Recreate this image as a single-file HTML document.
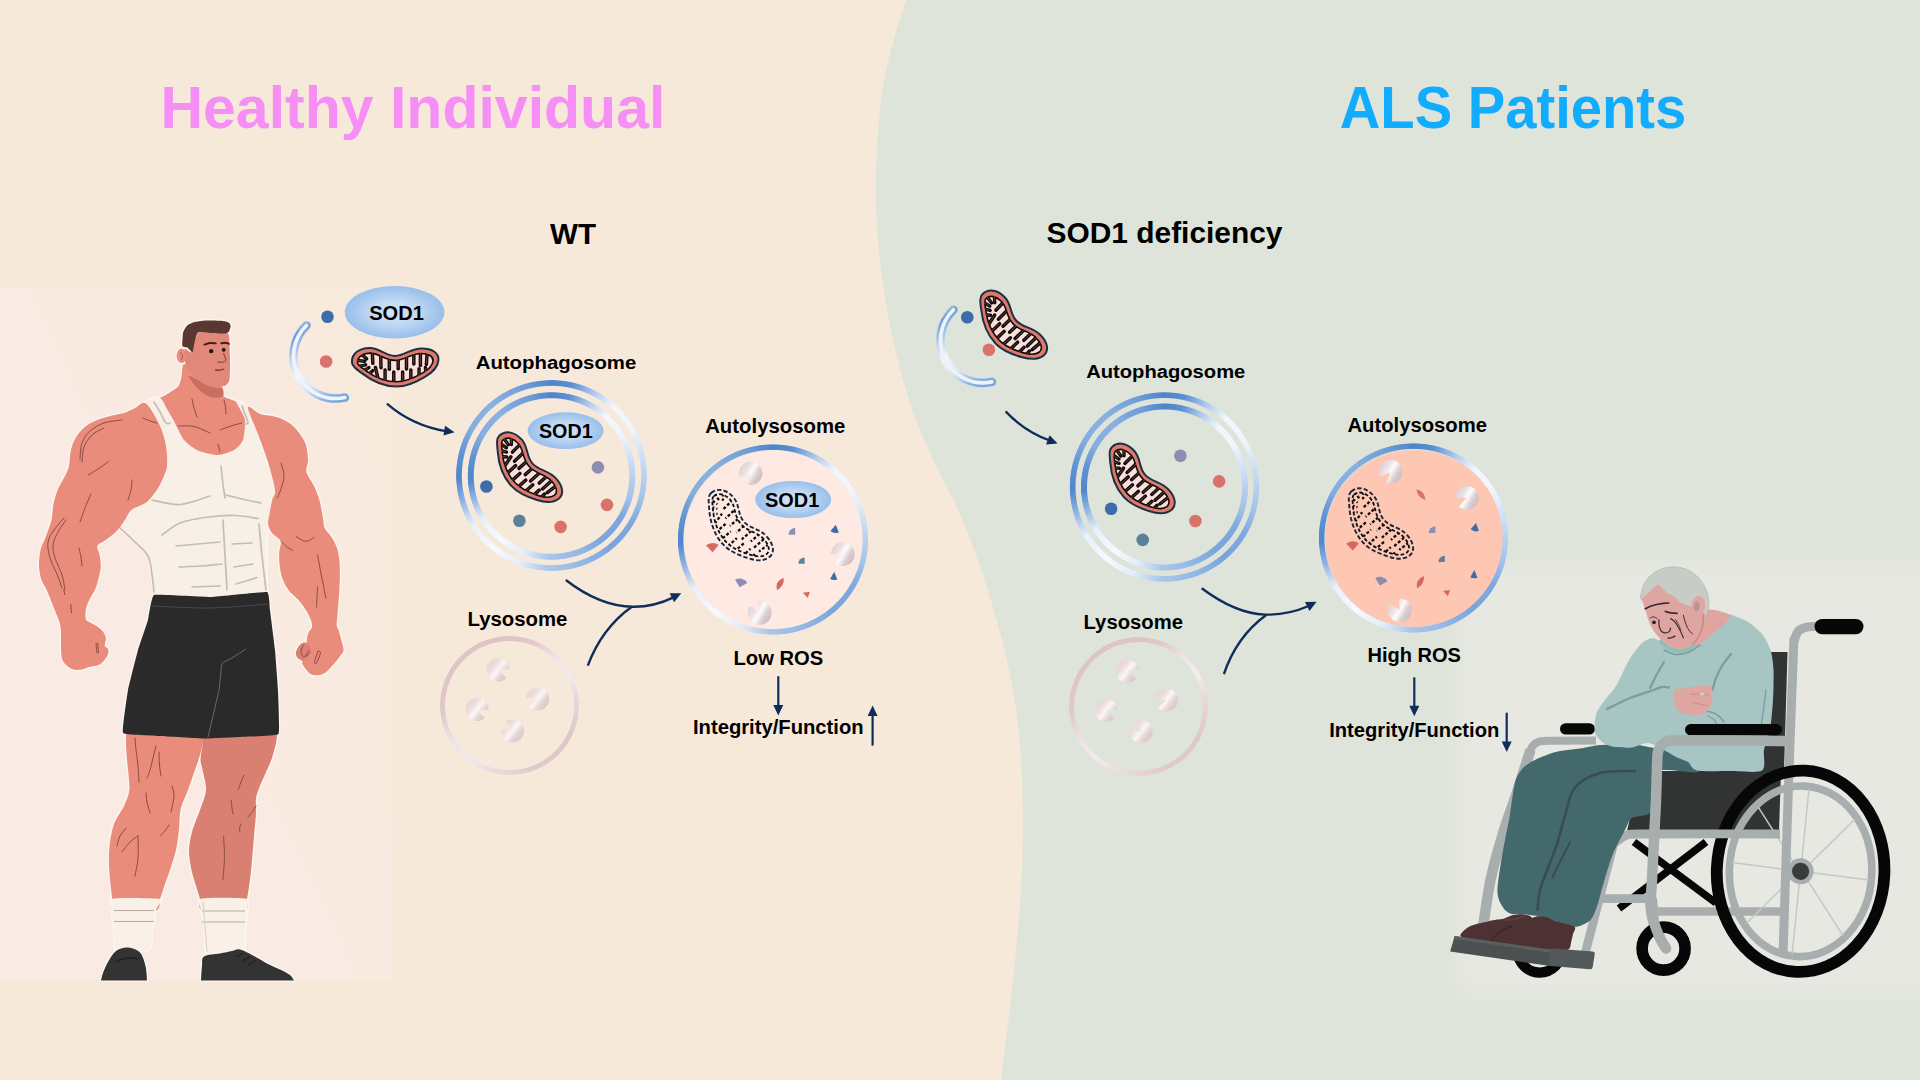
<!DOCTYPE html>
<html>
<head>
<meta charset="utf-8">
<title>SOD1 mitophagy</title>
<style>
html,body{margin:0;padding:0;width:1920px;height:1080px;overflow:hidden;background:#f7e9da;}
body{font-family:"Liberation Sans",sans-serif;position:relative;}
#stage{position:absolute;left:0;top:0;width:1920px;height:1080px;overflow:hidden;}
svg{position:absolute;left:0;top:0;}
svg text{font-family:"Liberation Sans",sans-serif;font-weight:bold;}
.ring{position:absolute;border-radius:50%;}
</style>
</head>
<body>
<div id="stage">

<!-- ============ LAYER 1: backgrounds ============ -->
<svg width="1920" height="1080" viewBox="0 0 1920 1080">
  <defs>
    <linearGradient id="manbg" x1="1" y1="0" x2="0.35" y2="0.55">
      <stop offset="0" stop-color="#f9ebe3" stop-opacity="0.08"/>
      <stop offset="1" stop-color="#f9ebe3" stop-opacity="1"/>
    </linearGradient>
    <filter id="soft" x="-10%" y="-10%" width="120%" height="120%"><feGaussianBlur stdDeviation="9"/></filter>
    <linearGradient id="oldbgL" x1="0" y1="0" x2="1" y2="0">
      <stop offset="0" stop-color="#e4e8e1" stop-opacity="0"/>
      <stop offset="0.22" stop-color="#e4e8e1" stop-opacity="1"/>
      <stop offset="1" stop-color="#e4e8e1" stop-opacity="1"/>
    </linearGradient>
  </defs>
  <rect x="0" y="0" width="1920" height="1080" fill="#f7e9da"/>
  <path id="sage" fill="#dee4d9" d="M906,0 C893,40 884,70 880,110 C875,160 875,205 878,240 C882,290 893,350 909,400 C922,440 941,476 954,501 C970,535 986,580 1002,640 C1012,680 1020,720 1022,780 C1024,830 1023,880 1017,940 C1013,985 1006,1040 1001,1080 L1920,1080 L1920,0 Z"/>
  <rect x="0" y="287" width="392" height="692.5" fill="url(#manbg)"/>
  <rect x="1456" y="562" width="520" height="436" fill="#e6e8e1" filter="url(#soft)"/>
</svg>

<!-- ============ LAYER 2: figures (man + wheelchair) ============ -->
<svg id="figs" width="1920" height="1080" viewBox="0 0 1920 1080">
<g id="man">
<path d="M215.0,716.0 C206.2,717.2 205.4,719.6 203.5,724.0 C201.6,728.4 202.9,739.6 202.5,745.0 C202.1,750.4 200.4,756.0 200.5,760.0 C200.6,764.0 202.2,767.5 203.0,772.0 C203.8,776.5 206.4,784.3 206.0,790.0 C205.6,795.7 202.0,804.0 200.0,810.0 C198.0,816.0 194.2,824.0 192.5,830.0 C190.8,836.0 189.2,844.0 189.0,850.0 C188.8,856.0 190.4,864.6 191.5,870.0 C192.6,875.4 194.7,881.6 196.0,886.0 C197.3,890.4 198.9,895.2 200.0,899.0 C201.1,902.8 196.4,909.2 203.0,911.0 C209.6,912.8 237.4,912.8 244.0,911.0 C250.6,909.2 246.1,903.6 247.0,899.0 C247.9,894.4 249.2,885.9 250.0,880.0 C250.8,874.1 251.4,866.6 252.0,860.0 C252.6,853.4 253.4,842.9 254.0,836.0 C254.6,829.1 255.7,819.7 256.0,814.0 C256.3,808.3 255.4,802.2 256.0,798.0 C256.6,793.8 258.4,790.2 260.0,786.0 C261.6,781.8 265.2,774.2 267.0,770.0 C268.8,765.8 270.6,762.5 272.0,758.0 C273.4,753.5 275.8,745.4 276.5,740.0 C277.2,734.6 278.7,725.6 276.5,722.0 C274.3,718.4 271.2,716.9 262.0,716.0 C252.8,715.1 223.8,714.8 215.0,716.0 Z" fill="#fdf7f0" stroke="#fdf7f0" stroke-width="2.6" stroke-linejoin="round"/>
<path d="M150.0,715.0 C140.7,715.9 131.6,718.2 128.0,722.0 C124.4,725.8 126.2,734.3 126.0,740.0 C125.8,745.7 126.5,754.0 127.0,760.0 C127.5,766.0 128.7,775.2 129.0,780.0 C129.3,784.8 129.8,788.1 129.0,792.0 C128.2,795.9 126.2,801.2 124.0,806.0 C121.8,810.8 116.2,818.0 114.0,824.0 C111.8,830.0 110.2,839.7 109.5,846.0 C108.8,852.3 108.8,860.3 109.0,866.0 C109.2,871.7 110.0,879.0 110.5,884.0 C111.0,889.0 111.7,895.0 112.3,899.0 C112.9,903.0 108.1,909.2 114.5,911.0 C120.9,912.8 148.2,912.8 155.0,911.0 C161.8,909.2 158.5,903.0 160.0,899.0 C161.5,895.0 163.5,888.4 165.0,884.0 C166.5,879.6 168.3,875.1 170.0,870.0 C171.7,864.9 174.7,856.0 176.0,850.0 C177.3,844.0 178.3,836.0 179.0,830.0 C179.7,824.0 179.2,816.0 180.5,810.0 C181.8,804.0 185.8,796.0 188.0,790.0 C190.2,784.0 193.3,774.8 195.0,770.0 C196.7,765.2 197.9,761.8 199.0,758.0 C200.1,754.2 201.8,749.2 202.5,745.0 C203.2,740.8 205.4,734.4 203.5,730.0 C201.6,725.6 198.0,718.2 190.0,716.0 C182.0,713.8 159.3,714.1 150.0,715.0 Z" fill="#fdf7f0" stroke="#fdf7f0" stroke-width="2.6" stroke-linejoin="round"/>
<path d="M112.0,899.0 C115.1,897.3 157.1,898.3 160.0,899.0 C162.9,899.7 156.5,907.9 156.0,910.0 C155.5,912.1 152.4,927.3 152.0,930.0 C151.6,932.7 151.9,948.7 149.5,950.0 C147.1,951.3 118.4,951.7 116.0,950.0 C113.6,948.3 114.3,928.4 114.0,925.0 C113.7,921.6 108.9,900.7 112.0,899.0 Z" fill="#fdf7f0" stroke="#fdf7f0" stroke-width="2.6" stroke-linejoin="round"/>
<path d="M200.0,899.0 C202.8,897.3 244.0,897.5 247.0,899.0 C250.0,900.5 245.7,918.6 245.5,922.0 C245.3,925.4 246.1,947.9 243.5,950.0 C240.9,952.1 209.6,955.7 207.0,954.0 C204.4,952.3 205.0,928.7 204.5,925.0 C204.0,921.3 197.2,900.7 200.0,899.0 Z" fill="#fdf7f0" stroke="#fdf7f0" stroke-width="2.6" stroke-linejoin="round"/>
<path d="M101.0,980.5 C101.3,979.2 101.8,976.1 103.0,973.0 C104.2,969.9 105.8,965.7 108.0,962.0 C110.2,958.3 112.7,953.4 116.0,951.0 C119.3,948.6 124.0,947.2 128.0,947.5 C132.0,947.8 137.1,949.4 140.0,952.5 C142.9,955.6 144.3,961.3 145.5,966.0 C146.7,970.7 146.8,978.1 147.0,980.5 Z" fill="#fdf7f0" stroke="#fdf7f0" stroke-width="2.6" stroke-linejoin="round"/>
<path d="M201.0,980.5 C201.2,978.1 201.5,970.0 202.0,966.0 C202.5,962.0 201.0,958.6 204.0,956.5 C207.0,954.4 215.3,954.4 220.0,953.5 C224.7,952.6 228.7,951.7 232.0,951.0 C235.3,950.3 236.3,948.7 240.0,949.5 C243.7,950.3 249.3,953.6 254.0,956.0 C258.7,958.4 263.7,961.8 268.0,964.0 C272.3,966.2 276.3,967.7 280.0,969.5 C283.7,971.3 287.7,973.2 290.0,975.0 C292.3,976.8 293.3,979.6 294.0,980.5 Z" fill="#fdf7f0" stroke="#fdf7f0" stroke-width="2.6" stroke-linejoin="round"/>
<path d="M146.0,403.5 C147.3,399.9 153.0,400.3 155.0,399.5 C157.0,398.7 161.0,397.5 163.0,396.5 C165.0,395.5 170.2,392.2 172.0,391.0 C173.8,389.8 177.4,387.6 178.5,386.0 C179.6,384.4 180.9,379.6 181.5,377.0 C182.1,374.4 181.8,364.6 184.0,364.0 C186.2,363.4 195.6,369.2 200.0,372.0 C204.4,374.8 219.3,385.2 222.0,388.0 C224.7,390.8 221.5,394.5 223.0,396.0 C224.5,397.5 232.1,399.7 235.0,401.0 C237.9,402.3 246.0,404.1 248.0,407.5 C250.0,410.9 251.8,423.6 252.0,430.0 C252.2,436.4 261.9,458.3 250.0,462.0 C238.1,465.7 162.4,465.7 150.0,462.0 C137.6,458.3 144.5,436.8 144.0,430.0 C143.5,423.2 144.7,407.1 146.0,403.5 Z" fill="#fdf7f0" stroke="#fdf7f0" stroke-width="2.6" stroke-linejoin="round"/>
<path d="M146.0,403.5 C146.0,400.0 157.6,397.4 160.0,398.0 C162.4,398.6 165.4,406.3 167.0,409.0 C168.6,411.7 172.0,417.4 174.0,421.0 C176.0,424.6 181.2,436.6 184.0,440.0 C186.8,443.4 194.0,448.8 198.0,450.5 C202.0,452.2 213.8,455.1 218.0,455.0 C222.2,454.9 231.1,451.8 234.0,450.0 C236.9,448.2 241.7,443.5 243.0,440.0 C244.3,436.5 245.3,423.5 245.0,420.0 C244.7,416.5 241.6,412.2 240.5,410.0 C239.4,407.8 235.1,401.3 236.0,401.0 C236.9,400.7 245.7,404.1 248.0,407.5 C250.3,410.9 253.9,423.9 256.0,430.0 C258.1,436.1 263.7,453.2 266.0,460.0 C268.3,466.8 275.3,482.9 276.0,488.0 C276.7,493.1 272.9,499.8 272.0,504.0 C271.1,508.2 269.1,519.8 268.5,524.0 C267.9,528.2 266.7,534.6 266.5,540.0 C266.3,545.4 266.5,564.4 266.5,570.0 C266.5,575.6 267.0,584.3 266.5,588.0 C266.0,591.7 274.4,600.4 262.0,602.0 C249.6,603.6 172.5,603.4 160.0,602.0 C147.5,600.6 155.4,592.8 154.5,590.0 C153.6,587.2 152.8,582.0 152.0,578.0 C151.2,574.0 150.1,560.4 148.0,556.0 C145.9,551.6 137.3,543.3 134.0,540.0 C130.7,536.7 120.7,531.5 120.0,528.0 C119.3,524.5 124.5,513.3 128.0,510.0 C131.5,506.7 145.6,505.8 150.0,500.0 C154.4,494.2 164.8,468.4 166.0,460.0 C167.2,451.6 162.3,434.6 160.0,428.0 C157.7,421.4 146.0,407.0 146.0,403.5 Z" fill="#fdf7f0" stroke="#fdf7f0" stroke-width="2.6" stroke-linejoin="round"/>
<path d="M154.0,595.0 C156.5,594.1 205.5,597.1 210.0,597.0 C214.5,596.9 264.6,591.5 267.0,592.0 C269.4,592.5 269.7,607.7 270.0,610.0 C270.3,612.3 274.7,646.8 275.0,650.0 C275.3,653.2 277.9,686.6 278.0,690.0 C278.1,693.4 280.0,732.1 278.5,734.0 C277.0,735.9 243.0,736.8 240.0,737.0 C237.0,737.2 207.2,738.5 204.0,738.5 C200.8,738.5 163.2,736.2 160.0,736.0 C156.8,735.8 124.3,734.8 123.0,733.0 C121.7,731.2 127.4,693.3 128.0,690.0 C128.6,686.7 137.2,652.8 138.0,650.0 C138.8,647.2 147.4,622.2 148.0,620.0 C148.6,617.8 151.5,595.9 154.0,595.0 Z" fill="#fdf7f0" stroke="#fdf7f0" stroke-width="2.4"/>
<path d="M146.0,403.5 C142.2,400.8 138.3,406.6 135.0,408.0 C131.7,409.4 127.8,411.8 124.0,413.0 C120.2,414.2 114.2,414.9 110.0,416.0 C105.8,417.1 99.6,419.0 96.0,420.5 C92.4,422.0 88.5,424.1 86.0,426.0 C83.5,427.9 80.9,430.6 79.0,433.0 C77.1,435.4 74.8,439.1 73.5,442.0 C72.2,444.9 71.2,448.4 70.5,452.0 C69.8,455.6 69.8,462.4 69.0,466.0 C68.2,469.6 66.7,472.6 65.0,476.0 C63.4,479.4 59.7,484.8 58.0,489.0 C56.3,493.2 54.5,499.4 53.5,504.0 C52.5,508.6 52.6,515.2 51.5,520.0 C50.4,524.8 47.6,531.5 46.0,536.0 C44.4,540.5 41.5,545.5 40.5,550.0 C39.5,554.5 38.9,561.5 39.0,566.0 C39.1,570.5 40.3,576.4 41.5,580.0 C42.7,583.6 44.8,585.7 46.7,590.0 C48.6,594.3 52.2,603.6 54.1,608.5 C56.0,613.4 58.6,618.9 59.6,622.4 C60.6,625.9 60.8,628.2 61.0,631.7 C61.2,635.2 60.9,641.6 61.0,645.6 C61.1,649.6 61.1,655.6 61.9,658.5 C62.7,661.4 64.4,663.3 66.1,665.0 C67.8,666.7 71.1,668.9 73.5,669.6 C75.9,670.3 79.5,669.8 81.9,669.4 C84.3,669.0 86.8,667.7 89.3,667.0 C91.8,666.3 96.3,666.0 98.5,665.0 C100.7,664.0 102.7,661.9 104.1,660.4 C105.5,658.9 107.2,656.5 107.8,654.8 C108.4,653.1 108.8,650.6 108.3,649.3 C107.8,647.9 105.2,647.5 104.8,645.8 C104.4,644.1 106.2,640.2 105.9,638.1 C105.6,636.0 104.5,633.5 103.1,631.7 C101.7,629.9 98.8,627.6 96.7,626.1 C94.6,624.6 90.9,622.9 89.3,621.9 C87.7,620.9 86.6,621.0 86.0,619.4 C85.4,617.8 85.3,613.9 85.6,611.3 C85.9,608.7 86.9,605.2 88.3,602.0 C89.7,598.8 93.4,593.0 94.8,590.0 C96.2,587.0 96.8,585.1 97.7,581.7 C98.6,578.3 100.4,571.4 100.7,567.4 C101.0,563.4 100.2,558.5 99.7,555.2 C99.2,551.9 96.5,548.0 97.4,545.7 C98.3,543.4 102.9,542.1 105.8,539.9 C108.7,537.6 114.1,533.8 117.0,530.7 C119.9,527.6 123.1,522.6 125.2,519.5 C127.3,516.4 128.1,512.5 131.3,509.9 C134.5,507.3 142.8,505.2 146.6,502.2 C150.4,499.2 154.3,493.6 156.8,490.0 C159.3,486.4 161.5,481.6 163.0,478.0 C164.5,474.4 166.6,470.8 167.0,466.0 C167.4,461.2 167.1,452.0 166.0,446.0 C164.9,440.0 163.0,432.4 160.0,426.0 C157.0,419.6 149.8,406.2 146.0,403.5 Z" fill="#fdf7f0" stroke="#fdf7f0" stroke-width="2.6" stroke-linejoin="round"/>
<path d="M248.0,407.5 C248.3,404.5 256.4,412.7 260.0,414.0 C263.6,415.3 268.7,415.2 272.0,416.0 C275.3,416.8 279.0,417.6 282.0,419.0 C285.0,420.4 289.3,422.8 292.0,425.0 C294.7,427.2 297.9,431.0 300.0,434.0 C302.1,437.0 304.8,441.1 306.0,445.0 C307.2,448.9 307.9,455.9 308.0,460.0 C308.1,464.1 305.6,468.1 306.5,472.0 C307.4,475.9 312.1,481.8 314.0,486.0 C315.9,490.2 318.0,495.1 319.4,500.0 C320.8,504.9 322.3,514.3 323.1,518.5 C323.9,522.7 323.3,525.2 324.6,528.0 C325.9,530.8 329.6,534.0 331.5,537.0 C333.4,540.0 335.8,544.6 337.0,548.1 C338.2,551.6 339.0,556.3 339.4,560.2 C339.8,564.1 339.9,569.6 339.9,574.1 C339.9,578.6 339.6,586.1 339.4,590.0 C339.2,593.9 338.9,596.5 338.6,600.0 C338.3,603.5 337.9,609.2 337.6,613.0 C337.3,616.8 336.6,622.7 336.7,625.2 C336.8,627.7 337.8,627.6 338.5,629.8 C339.2,632.0 340.5,636.9 341.3,640.0 C342.1,643.1 343.7,647.8 343.6,650.2 C343.5,652.6 341.9,653.6 340.4,655.7 C338.9,657.8 336.1,661.6 333.9,664.1 C331.7,666.6 328.0,670.7 325.6,672.4 C323.2,674.1 320.3,674.9 318.1,675.2 C315.9,675.5 312.5,675.1 310.7,674.3 C308.9,673.5 307.3,671.1 306.1,669.6 C304.9,668.1 303.0,665.5 302.4,664.1 C301.8,662.7 302.6,661.3 301.9,660.4 C301.2,659.5 298.7,659.2 297.8,658.1 C296.9,657.0 295.8,654.7 295.9,653.0 C296.0,651.3 297.6,648.0 298.7,646.5 C299.8,645.0 302.1,643.4 303.3,642.8 C304.5,642.2 306.0,643.0 306.6,642.3 C307.2,641.6 306.7,639.7 307.0,638.1 C307.3,636.5 308.1,633.4 308.9,631.7 C309.7,630.0 311.8,628.8 312.1,627.0 C312.4,625.2 311.6,622.1 310.7,619.6 C309.8,617.1 308.0,613.4 306.1,610.4 C304.2,607.4 300.4,602.3 297.8,599.3 C295.2,596.3 291.2,593.8 288.9,590.7 C286.6,587.6 283.8,582.6 282.4,578.7 C281.0,574.8 280.1,568.8 279.6,564.8 C279.1,560.8 279.1,555.5 279.2,551.9 C279.3,548.3 281.7,543.8 280.6,541.0 C279.6,538.2 274.1,535.8 272.2,533.3 C270.3,530.8 268.4,527.3 268.1,524.1 C267.8,520.9 269.3,515.6 269.9,512.0 C270.5,508.4 271.4,503.3 272.2,500.0 C273.0,496.7 275.6,495.7 275.0,490.0 C274.4,484.3 270.6,470.4 268.0,462.0 C265.4,453.6 261.0,442.2 258.0,434.0 C255.0,425.8 247.7,410.5 248.0,407.5 Z" fill="#fdf7f0" stroke="#fdf7f0" stroke-width="2.6" stroke-linejoin="round"/>
<ellipse cx="181.6" cy="355.8" rx="5" ry="7.2" fill="#fdf7f0" stroke="#fdf7f0" stroke-width="2.4"/>
<path d="M184.6,349.0 C185.1,347.8 190.2,352.8 191.0,352.5 C191.8,352.2 192.6,347.4 193.0,346.0 C193.4,344.6 194.8,339.9 195.5,338.5 C196.2,337.1 197.8,332.6 199.5,332.0 C201.2,331.4 209.2,332.4 212.0,332.5 C214.8,332.6 226.2,332.3 228.0,333.5 C229.8,334.7 229.3,342.1 229.5,344.5 C229.7,346.9 229.9,354.6 230.0,357.0 C230.1,359.4 230.1,365.7 230.0,368.0 C229.9,370.3 229.9,378.3 229.5,380.0 C229.1,381.7 227.2,384.4 226.0,385.2 C224.8,386.0 218.9,387.7 217.0,387.6 C215.1,387.5 208.8,385.5 206.7,384.6 C204.6,383.7 198.0,379.9 196.3,378.6 C194.6,377.3 190.9,372.6 189.8,371.2 C188.7,369.8 186.1,366.7 185.6,364.5 C185.1,362.3 184.1,350.2 184.6,349.0 Z" fill="#fdf7f0" stroke="#fdf7f0" stroke-width="2.6" stroke-linejoin="round"/>
<path d="M182.4,346.0 C181.9,344.9 182.5,339.7 182.6,338.0 C182.7,336.3 182.8,333.0 183.4,331.5 C184.0,330.0 186.3,326.3 187.4,325.2 C188.5,324.1 191.6,322.9 193.0,322.4 C194.4,321.9 197.7,321.5 199.3,321.3 C200.9,321.1 205.3,320.7 207.0,320.6 C208.7,320.5 212.6,320.4 214.1,320.4 C215.6,320.4 218.6,320.7 220.0,320.8 C221.4,320.9 224.8,321.1 225.9,321.4 C227.0,321.7 228.9,322.4 229.4,323.0 C229.9,323.6 230.6,325.4 230.6,326.2 C230.6,327.0 229.9,329.3 229.6,330.0 C229.3,330.7 228.8,332.2 228.0,332.6 C227.2,333.0 225.0,333.6 223.0,333.6 C221.0,333.6 213.8,333.2 211.0,333.0 C208.2,332.8 201.0,331.8 199.3,332.0 C197.6,332.2 197.1,334.1 196.6,335.0 C196.1,335.9 195.5,338.7 195.2,340.0 C194.9,341.3 194.1,344.6 193.8,346.0 C193.5,347.4 193.1,351.7 192.6,352.2 C192.1,352.7 190.4,350.5 189.8,350.0 C189.2,349.5 188.1,348.1 187.2,347.6 C186.3,347.1 182.9,347.1 182.4,346.0 Z" fill="#fdf7f0" stroke="#fdf7f0" stroke-width="2.6" stroke-linejoin="round"/>
<path d="M215.0,716.0 C206.2,717.2 205.4,719.6 203.5,724.0 C201.6,728.4 202.9,739.6 202.5,745.0 C202.1,750.4 200.4,756.0 200.5,760.0 C200.6,764.0 202.2,767.5 203.0,772.0 C203.8,776.5 206.4,784.3 206.0,790.0 C205.6,795.7 202.0,804.0 200.0,810.0 C198.0,816.0 194.2,824.0 192.5,830.0 C190.8,836.0 189.2,844.0 189.0,850.0 C188.8,856.0 190.4,864.6 191.5,870.0 C192.6,875.4 194.7,881.6 196.0,886.0 C197.3,890.4 198.9,895.2 200.0,899.0 C201.1,902.8 196.4,909.2 203.0,911.0 C209.6,912.8 237.4,912.8 244.0,911.0 C250.6,909.2 246.1,903.6 247.0,899.0 C247.9,894.4 249.2,885.9 250.0,880.0 C250.8,874.1 251.4,866.6 252.0,860.0 C252.6,853.4 253.4,842.9 254.0,836.0 C254.6,829.1 255.7,819.7 256.0,814.0 C256.3,808.3 255.4,802.2 256.0,798.0 C256.6,793.8 258.4,790.2 260.0,786.0 C261.6,781.8 265.2,774.2 267.0,770.0 C268.8,765.8 270.6,762.5 272.0,758.0 C273.4,753.5 275.8,745.4 276.5,740.0 C277.2,734.6 278.7,725.6 276.5,722.0 C274.3,718.4 271.2,716.9 262.0,716.0 C252.8,715.1 223.8,714.8 215.0,716.0 Z" fill="#da8072"/>
<path d="M150.0,715.0 C140.7,715.9 131.6,718.2 128.0,722.0 C124.4,725.8 126.2,734.3 126.0,740.0 C125.8,745.7 126.5,754.0 127.0,760.0 C127.5,766.0 128.7,775.2 129.0,780.0 C129.3,784.8 129.8,788.1 129.0,792.0 C128.2,795.9 126.2,801.2 124.0,806.0 C121.8,810.8 116.2,818.0 114.0,824.0 C111.8,830.0 110.2,839.7 109.5,846.0 C108.8,852.3 108.8,860.3 109.0,866.0 C109.2,871.7 110.0,879.0 110.5,884.0 C111.0,889.0 111.7,895.0 112.3,899.0 C112.9,903.0 108.1,909.2 114.5,911.0 C120.9,912.8 148.2,912.8 155.0,911.0 C161.8,909.2 158.5,903.0 160.0,899.0 C161.5,895.0 163.5,888.4 165.0,884.0 C166.5,879.6 168.3,875.1 170.0,870.0 C171.7,864.9 174.7,856.0 176.0,850.0 C177.3,844.0 178.3,836.0 179.0,830.0 C179.7,824.0 179.2,816.0 180.5,810.0 C181.8,804.0 185.8,796.0 188.0,790.0 C190.2,784.0 193.3,774.8 195.0,770.0 C196.7,765.2 197.9,761.8 199.0,758.0 C200.1,754.2 201.8,749.2 202.5,745.0 C203.2,740.8 205.4,734.4 203.5,730.0 C201.6,725.6 198.0,718.2 190.0,716.0 C182.0,713.8 159.3,714.1 150.0,715.0 Z" fill="#e98c7c"/>
<path d="M112.0,899.0 C115.1,897.3 157.1,898.3 160.0,899.0 C162.9,899.7 156.5,907.9 156.0,910.0 C155.5,912.1 152.4,927.3 152.0,930.0 C151.6,932.7 151.9,948.7 149.5,950.0 C147.1,951.3 118.4,951.7 116.0,950.0 C113.6,948.3 114.3,928.4 114.0,925.0 C113.7,921.6 108.9,900.7 112.0,899.0 Z" fill="#f9f1e8"/>
<path d="M200.0,899.0 C202.8,897.3 244.0,897.5 247.0,899.0 C250.0,900.5 245.7,918.6 245.5,922.0 C245.3,925.4 246.1,947.9 243.5,950.0 C240.9,952.1 209.6,955.7 207.0,954.0 C204.4,952.3 205.0,928.7 204.5,925.0 C204.0,921.3 197.2,900.7 200.0,899.0 Z" fill="#f9f1e8"/>
<path d="M114,910.5 L154,910.5" stroke="#b9aaa2" stroke-width="1.1" fill="none"/>
<path d="M202,911.0 L245,911.0" stroke="#b9aaa2" stroke-width="1.1" fill="none"/>
<path d="M114,921.5 L154,921.5" stroke="#b9aaa2" stroke-width="1.1" fill="none"/>
<path d="M202,922.0 L245,922.0" stroke="#b9aaa2" stroke-width="1.1" fill="none"/>
<path d="M203,902 L207,952" stroke="#ddd3c9" stroke-width="1.2" fill="none"/>
<path d="M101.0,980.5 C101.3,979.2 101.8,976.1 103.0,973.0 C104.2,969.9 105.8,965.7 108.0,962.0 C110.2,958.3 112.7,953.4 116.0,951.0 C119.3,948.6 124.0,947.2 128.0,947.5 C132.0,947.8 137.1,949.4 140.0,952.5 C142.9,955.6 144.3,961.3 145.5,966.0 C146.7,970.7 146.8,978.1 147.0,980.5 Z" fill="#333333"/>
<path d="M201.0,980.5 C201.2,978.1 201.5,970.0 202.0,966.0 C202.5,962.0 201.0,958.6 204.0,956.5 C207.0,954.4 215.3,954.4 220.0,953.5 C224.7,952.6 228.7,951.7 232.0,951.0 C235.3,950.3 236.3,948.7 240.0,949.5 C243.7,950.3 249.3,953.6 254.0,956.0 C258.7,958.4 263.7,961.8 268.0,964.0 C272.3,966.2 276.3,967.7 280.0,969.5 C283.7,971.3 287.7,973.2 290.0,975.0 C292.3,976.8 293.3,979.6 294.0,980.5 Z" fill="#333333"/>
<path d="M116,962 Q126,956 138,959" stroke="#1f1f1f" stroke-width="1.4" fill="none"/>
<path d="M236,957 L244,953 M242,961 L250,957 M248,965 L256,960" stroke="#222" stroke-width="1.3" fill="none"/>
<path d="M146.0,403.5 C147.3,399.9 153.0,400.3 155.0,399.5 C157.0,398.7 161.0,397.5 163.0,396.5 C165.0,395.5 170.2,392.2 172.0,391.0 C173.8,389.8 177.4,387.6 178.5,386.0 C179.6,384.4 180.9,379.6 181.5,377.0 C182.1,374.4 181.8,364.6 184.0,364.0 C186.2,363.4 195.6,369.2 200.0,372.0 C204.4,374.8 219.3,385.2 222.0,388.0 C224.7,390.8 221.5,394.5 223.0,396.0 C224.5,397.5 232.1,399.7 235.0,401.0 C237.9,402.3 246.0,404.1 248.0,407.5 C250.0,410.9 251.8,423.6 252.0,430.0 C252.2,436.4 261.9,458.3 250.0,462.0 C238.1,465.7 162.4,465.7 150.0,462.0 C137.6,458.3 144.5,436.8 144.0,430.0 C143.5,423.2 144.7,407.1 146.0,403.5 Z" fill="#e98c7c"/>
<path d="M146.0,403.5 C146.0,400.0 157.6,397.4 160.0,398.0 C162.4,398.6 165.4,406.3 167.0,409.0 C168.6,411.7 172.0,417.4 174.0,421.0 C176.0,424.6 181.2,436.6 184.0,440.0 C186.8,443.4 194.0,448.8 198.0,450.5 C202.0,452.2 213.8,455.1 218.0,455.0 C222.2,454.9 231.1,451.8 234.0,450.0 C236.9,448.2 241.7,443.5 243.0,440.0 C244.3,436.5 245.3,423.5 245.0,420.0 C244.7,416.5 241.6,412.2 240.5,410.0 C239.4,407.8 235.1,401.3 236.0,401.0 C236.9,400.7 245.7,404.1 248.0,407.5 C250.3,410.9 253.9,423.9 256.0,430.0 C258.1,436.1 263.7,453.2 266.0,460.0 C268.3,466.8 275.3,482.9 276.0,488.0 C276.7,493.1 272.9,499.8 272.0,504.0 C271.1,508.2 269.1,519.8 268.5,524.0 C267.9,528.2 266.7,534.6 266.5,540.0 C266.3,545.4 266.5,564.4 266.5,570.0 C266.5,575.6 267.0,584.3 266.5,588.0 C266.0,591.7 274.4,600.4 262.0,602.0 C249.6,603.6 172.5,603.4 160.0,602.0 C147.5,600.6 155.4,592.8 154.5,590.0 C153.6,587.2 152.8,582.0 152.0,578.0 C151.2,574.0 150.1,560.4 148.0,556.0 C145.9,551.6 137.3,543.3 134.0,540.0 C130.7,536.7 120.7,531.5 120.0,528.0 C119.3,524.5 124.5,513.3 128.0,510.0 C131.5,506.7 145.6,505.8 150.0,500.0 C154.4,494.2 164.8,468.4 166.0,460.0 C167.2,451.6 162.3,434.6 160.0,428.0 C157.7,421.4 146.0,407.0 146.0,403.5 Z" fill="#f8f0e6"/>
<path d="M152.0,500.0 C156.7,500.8 170.3,505.2 180.0,504.5 C189.7,503.8 205.0,497.4 210.0,496.0" fill="none" stroke="#c3beb5" stroke-width="1.7" stroke-linecap="round" stroke-linejoin="round"/>
<path d="M226.0,495.0 C229.0,495.8 238.2,498.2 244.0,499.5 C249.8,500.8 258.2,502.4 261.0,503.0" fill="none" stroke="#c3beb5" stroke-width="1.7" stroke-linecap="round" stroke-linejoin="round"/>
<path d="M221.0,466.0 C221.3,469.0 222.3,478.7 223.0,484.0 C223.7,489.3 224.7,495.7 225.0,498.0" fill="none" stroke="#c3beb5" stroke-width="1.7" stroke-linecap="round" stroke-linejoin="round"/>
<path d="M162.0,535.0 C165.0,533.0 172.8,525.9 180.0,523.0 C187.2,520.1 195.8,518.8 205.0,517.5 C214.2,516.2 226.2,515.3 235.0,515.5 C243.8,515.7 254.2,518.0 258.0,518.5" fill="none" stroke="#c3beb5" stroke-width="1.7" stroke-linecap="round" stroke-linejoin="round"/>
<path d="M223.0,520.0 C223.3,525.8 224.3,543.3 225.0,555.0 C225.7,566.7 226.7,584.2 227.0,590.0" fill="none" stroke="#c3beb5" stroke-width="1.7" stroke-linecap="round" stroke-linejoin="round"/>
<path d="M176.0,546.0 C179.7,545.7 190.7,544.7 198.0,544.0 C205.3,543.3 216.3,542.3 220.0,542.0" fill="none" stroke="#c3beb5" stroke-width="1.7" stroke-linecap="round" stroke-linejoin="round"/>
<path d="M232.0,544.0 L252.0,543.0" fill="none" stroke="#c3beb5" stroke-width="1.7" stroke-linecap="round" stroke-linejoin="round"/>
<path d="M179.0,567.0 C182.5,566.8 192.8,566.5 200.0,566.0 C207.2,565.5 218.3,564.3 222.0,564.0" fill="none" stroke="#c3beb5" stroke-width="1.7" stroke-linecap="round" stroke-linejoin="round"/>
<path d="M234.0,567.0 L253.0,564.0" fill="none" stroke="#c3beb5" stroke-width="1.7" stroke-linecap="round" stroke-linejoin="round"/>
<path d="M192.0,587.0 L220.0,586.0" fill="none" stroke="#c3beb5" stroke-width="1.7" stroke-linecap="round" stroke-linejoin="round"/>
<path d="M236.0,584.0 L257.0,577.5" fill="none" stroke="#c3beb5" stroke-width="1.7" stroke-linecap="round" stroke-linejoin="round"/>
<path d="M259.0,524.0 C259.5,529.3 260.8,545.0 262.0,556.0 C263.2,567.0 265.3,584.3 266.0,590.0" fill="none" stroke="#c3beb5" stroke-width="1.7" stroke-linecap="round" stroke-linejoin="round"/>
<path d="M120.0,528.0 C122.3,530.2 129.3,536.3 134.0,541.0 C138.7,545.7 145.0,550.3 148.0,556.0 C151.0,561.7 151.0,569.0 152.0,575.0 C153.0,581.0 153.7,589.2 154.0,592.0" fill="none" stroke="#c3beb5" stroke-width="1.7" stroke-linecap="round" stroke-linejoin="round"/>
<path d="M154.0,402.0 C155.0,403.7 158.0,408.5 160.0,412.0 C162.0,415.5 164.3,421.2 166.0,423.0 C167.7,424.8 169.3,423.0 170.0,423.0" fill="none" stroke="#c3beb5" stroke-width="1.7" stroke-linecap="round" stroke-linejoin="round"/>
<path d="M242.0,406.0 C242.5,407.3 244.0,411.2 245.0,414.0 C246.0,416.8 248.2,421.4 248.0,423.0 C247.8,424.6 244.7,423.4 244.0,423.5" fill="none" stroke="#c3beb5" stroke-width="1.7" stroke-linecap="round" stroke-linejoin="round"/>
<path d="M154.0,595.0 C156.5,594.1 205.5,597.1 210.0,597.0 C214.5,596.9 264.6,591.5 267.0,592.0 C269.4,592.5 269.7,607.7 270.0,610.0 C270.3,612.3 274.7,646.8 275.0,650.0 C275.3,653.2 277.9,686.6 278.0,690.0 C278.1,693.4 280.0,732.1 278.5,734.0 C277.0,735.9 243.0,736.8 240.0,737.0 C237.0,737.2 207.2,738.5 204.0,738.5 C200.8,738.5 163.2,736.2 160.0,736.0 C156.8,735.8 124.3,734.8 123.0,733.0 C121.7,731.2 127.4,693.3 128.0,690.0 C128.6,686.7 137.2,652.8 138.0,650.0 C138.8,647.2 147.4,622.2 148.0,620.0 C148.6,617.8 151.5,595.9 154.0,595.0 Z" fill="#2a2a2a"/>
<path d="M152.0,606.0 C161.7,606.3 190.7,608.3 210.0,608.0 C229.3,607.7 258.3,604.7 268.0,604.0" fill="none" stroke="#4a4a4a" stroke-width="1.0" stroke-linecap="round" stroke-linejoin="round"/>
<path d="M246.0,649.0 C245.1,649.6 233.6,657.0 232.0,658.0 C230.4,659.0 222.9,661.9 222.0,664.0 C221.1,666.1 219.9,685.1 219.0,690.0 C218.1,694.9 208.7,733.9 208.0,737.0" fill="none" stroke="#6b6b6b" stroke-width="1.0" stroke-linecap="round" stroke-linejoin="round"/>
<path d="M146.0,403.5 C142.2,400.8 138.3,406.6 135.0,408.0 C131.7,409.4 127.8,411.8 124.0,413.0 C120.2,414.2 114.2,414.9 110.0,416.0 C105.8,417.1 99.6,419.0 96.0,420.5 C92.4,422.0 88.5,424.1 86.0,426.0 C83.5,427.9 80.9,430.6 79.0,433.0 C77.1,435.4 74.8,439.1 73.5,442.0 C72.2,444.9 71.2,448.4 70.5,452.0 C69.8,455.6 69.8,462.4 69.0,466.0 C68.2,469.6 66.7,472.6 65.0,476.0 C63.4,479.4 59.7,484.8 58.0,489.0 C56.3,493.2 54.5,499.4 53.5,504.0 C52.5,508.6 52.6,515.2 51.5,520.0 C50.4,524.8 47.6,531.5 46.0,536.0 C44.4,540.5 41.5,545.5 40.5,550.0 C39.5,554.5 38.9,561.5 39.0,566.0 C39.1,570.5 40.3,576.4 41.5,580.0 C42.7,583.6 44.8,585.7 46.7,590.0 C48.6,594.3 52.2,603.6 54.1,608.5 C56.0,613.4 58.6,618.9 59.6,622.4 C60.6,625.9 60.8,628.2 61.0,631.7 C61.2,635.2 60.9,641.6 61.0,645.6 C61.1,649.6 61.1,655.6 61.9,658.5 C62.7,661.4 64.4,663.3 66.1,665.0 C67.8,666.7 71.1,668.9 73.5,669.6 C75.9,670.3 79.5,669.8 81.9,669.4 C84.3,669.0 86.8,667.7 89.3,667.0 C91.8,666.3 96.3,666.0 98.5,665.0 C100.7,664.0 102.7,661.9 104.1,660.4 C105.5,658.9 107.2,656.5 107.8,654.8 C108.4,653.1 108.8,650.6 108.3,649.3 C107.8,647.9 105.2,647.5 104.8,645.8 C104.4,644.1 106.2,640.2 105.9,638.1 C105.6,636.0 104.5,633.5 103.1,631.7 C101.7,629.9 98.8,627.6 96.7,626.1 C94.6,624.6 90.9,622.9 89.3,621.9 C87.7,620.9 86.6,621.0 86.0,619.4 C85.4,617.8 85.3,613.9 85.6,611.3 C85.9,608.7 86.9,605.2 88.3,602.0 C89.7,598.8 93.4,593.0 94.8,590.0 C96.2,587.0 96.8,585.1 97.7,581.7 C98.6,578.3 100.4,571.4 100.7,567.4 C101.0,563.4 100.2,558.5 99.7,555.2 C99.2,551.9 96.5,548.0 97.4,545.7 C98.3,543.4 102.9,542.1 105.8,539.9 C108.7,537.6 114.1,533.8 117.0,530.7 C119.9,527.6 123.1,522.6 125.2,519.5 C127.3,516.4 128.1,512.5 131.3,509.9 C134.5,507.3 142.8,505.2 146.6,502.2 C150.4,499.2 154.3,493.6 156.8,490.0 C159.3,486.4 161.5,481.6 163.0,478.0 C164.5,474.4 166.6,470.8 167.0,466.0 C167.4,461.2 167.1,452.0 166.0,446.0 C164.9,440.0 163.0,432.4 160.0,426.0 C157.0,419.6 149.8,406.2 146.0,403.5 Z" fill="#e98c7c"/>
<path d="M248.0,407.5 C248.3,404.5 256.4,412.7 260.0,414.0 C263.6,415.3 268.7,415.2 272.0,416.0 C275.3,416.8 279.0,417.6 282.0,419.0 C285.0,420.4 289.3,422.8 292.0,425.0 C294.7,427.2 297.9,431.0 300.0,434.0 C302.1,437.0 304.8,441.1 306.0,445.0 C307.2,448.9 307.9,455.9 308.0,460.0 C308.1,464.1 305.6,468.1 306.5,472.0 C307.4,475.9 312.1,481.8 314.0,486.0 C315.9,490.2 318.0,495.1 319.4,500.0 C320.8,504.9 322.3,514.3 323.1,518.5 C323.9,522.7 323.3,525.2 324.6,528.0 C325.9,530.8 329.6,534.0 331.5,537.0 C333.4,540.0 335.8,544.6 337.0,548.1 C338.2,551.6 339.0,556.3 339.4,560.2 C339.8,564.1 339.9,569.6 339.9,574.1 C339.9,578.6 339.6,586.1 339.4,590.0 C339.2,593.9 338.9,596.5 338.6,600.0 C338.3,603.5 337.9,609.2 337.6,613.0 C337.3,616.8 336.6,622.7 336.7,625.2 C336.8,627.7 337.8,627.6 338.5,629.8 C339.2,632.0 340.5,636.9 341.3,640.0 C342.1,643.1 343.7,647.8 343.6,650.2 C343.5,652.6 341.9,653.6 340.4,655.7 C338.9,657.8 336.1,661.6 333.9,664.1 C331.7,666.6 328.0,670.7 325.6,672.4 C323.2,674.1 320.3,674.9 318.1,675.2 C315.9,675.5 312.5,675.1 310.7,674.3 C308.9,673.5 307.3,671.1 306.1,669.6 C304.9,668.1 303.0,665.5 302.4,664.1 C301.8,662.7 302.6,661.3 301.9,660.4 C301.2,659.5 298.7,659.2 297.8,658.1 C296.9,657.0 295.8,654.7 295.9,653.0 C296.0,651.3 297.6,648.0 298.7,646.5 C299.8,645.0 302.1,643.4 303.3,642.8 C304.5,642.2 306.0,643.0 306.6,642.3 C307.2,641.6 306.7,639.7 307.0,638.1 C307.3,636.5 308.1,633.4 308.9,631.7 C309.7,630.0 311.8,628.8 312.1,627.0 C312.4,625.2 311.6,622.1 310.7,619.6 C309.8,617.1 308.0,613.4 306.1,610.4 C304.2,607.4 300.4,602.3 297.8,599.3 C295.2,596.3 291.2,593.8 288.9,590.7 C286.6,587.6 283.8,582.6 282.4,578.7 C281.0,574.8 280.1,568.8 279.6,564.8 C279.1,560.8 279.1,555.5 279.2,551.9 C279.3,548.3 281.7,543.8 280.6,541.0 C279.6,538.2 274.1,535.8 272.2,533.3 C270.3,530.8 268.4,527.3 268.1,524.1 C267.8,520.9 269.3,515.6 269.9,512.0 C270.5,508.4 271.4,503.3 272.2,500.0 C273.0,496.7 275.6,495.7 275.0,490.0 C274.4,484.3 270.6,470.4 268.0,462.0 C265.4,453.6 261.0,442.2 258.0,434.0 C255.0,425.8 247.7,410.5 248.0,407.5 Z" fill="#e98c7c"/>
<path d="M303.3,642.8 C301.8,643.0 299.8,645.0 298.7,646.5 C297.6,648.0 296.0,651.3 295.9,653.0 C295.8,654.7 296.9,657.0 297.8,658.1 C298.7,659.2 300.7,660.3 301.9,660.4 C303.1,660.5 304.2,660.1 305.5,658.5 C306.8,656.9 310.1,652.0 310.5,650.0 C310.9,648.0 309.6,646.1 308.5,645.0 C307.4,643.9 304.8,642.6 303.3,642.8 Z" fill="#dd8074" />
<path d="M188.5,376.0 C188.6,375.1 193.6,377.8 196.0,379.0 C198.4,380.2 203.7,383.8 206.5,385.0 C209.3,386.2 214.9,387.6 217.0,388.0 C219.1,388.4 221.7,386.9 222.5,388.0 C223.3,389.1 224.4,395.2 223.0,396.5 C221.6,397.8 214.7,398.0 212.0,397.5 C209.3,397.0 205.3,394.6 203.0,393.0 C200.7,391.4 196.9,387.8 195.0,385.5 C193.1,383.2 188.4,376.9 188.5,376.0 Z" fill="#c96f62" />
<ellipse cx="181.6" cy="355.8" rx="5" ry="7.2" fill="#e98c7c"/>
<path d="M184.6,349.0 C185.1,347.8 190.2,352.8 191.0,352.5 C191.8,352.2 192.6,347.4 193.0,346.0 C193.4,344.6 194.8,339.9 195.5,338.5 C196.2,337.1 197.8,332.6 199.5,332.0 C201.2,331.4 209.2,332.4 212.0,332.5 C214.8,332.6 226.2,332.3 228.0,333.5 C229.8,334.7 229.3,342.1 229.5,344.5 C229.7,346.9 229.9,354.6 230.0,357.0 C230.1,359.4 230.1,365.7 230.0,368.0 C229.9,370.3 229.9,378.3 229.5,380.0 C229.1,381.7 227.2,384.4 226.0,385.2 C224.8,386.0 218.9,387.7 217.0,387.6 C215.1,387.5 208.8,385.5 206.7,384.6 C204.6,383.7 198.0,379.9 196.3,378.6 C194.6,377.3 190.9,372.6 189.8,371.2 C188.7,369.8 186.1,366.7 185.6,364.5 C185.1,362.3 184.1,350.2 184.6,349.0 Z" fill="#e2887a"/>
<path d="M180.5,352.5 C180.8,353.1 182.3,354.8 182.5,356.0 C182.7,357.2 181.7,358.9 181.5,359.5" fill="none" stroke="#8c4b42" stroke-width="0.8" stroke-linecap="round" stroke-linejoin="round"/>
<path d="M182.4,346.0 C181.9,344.9 182.5,339.7 182.6,338.0 C182.7,336.3 182.8,333.0 183.4,331.5 C184.0,330.0 186.3,326.3 187.4,325.2 C188.5,324.1 191.6,322.9 193.0,322.4 C194.4,321.9 197.7,321.5 199.3,321.3 C200.9,321.1 205.3,320.7 207.0,320.6 C208.7,320.5 212.6,320.4 214.1,320.4 C215.6,320.4 218.6,320.7 220.0,320.8 C221.4,320.9 224.8,321.1 225.9,321.4 C227.0,321.7 228.9,322.4 229.4,323.0 C229.9,323.6 230.6,325.4 230.6,326.2 C230.6,327.0 229.9,329.3 229.6,330.0 C229.3,330.7 228.8,332.2 228.0,332.6 C227.2,333.0 225.0,333.6 223.0,333.6 C221.0,333.6 213.8,333.2 211.0,333.0 C208.2,332.8 201.0,331.8 199.3,332.0 C197.6,332.2 197.1,334.1 196.6,335.0 C196.1,335.9 195.5,338.7 195.2,340.0 C194.9,341.3 194.1,344.6 193.8,346.0 C193.5,347.4 193.1,351.7 192.6,352.2 C192.1,352.7 190.4,350.5 189.8,350.0 C189.2,349.5 188.1,348.1 187.2,347.6 C186.3,347.1 182.9,347.1 182.4,346.0 Z" fill="#5a3731"/>
<path d="M204.4,344.6 C205.3,344.3 208.1,343.2 210.0,343.0 C211.9,342.8 214.8,343.3 215.8,343.4" fill="none" stroke="#3a211d" stroke-width="1.9" stroke-linecap="round" stroke-linejoin="round"/>
<path d="M221.2,343.4 C221.8,343.3 223.7,342.7 225.0,342.8 C226.3,342.9 228.3,343.6 229.0,343.8" fill="none" stroke="#3a211d" stroke-width="1.9" stroke-linecap="round" stroke-linejoin="round"/>
<circle cx="211.2" cy="351.2" r="2.1" fill="#1e1514"/><circle cx="223.7" cy="349.8" r="1.9" fill="#1e1514"/>
<path d="M223.6,353.5 C223.8,354.1 224.6,355.8 225.0,357.0 C225.4,358.2 226.2,359.7 225.8,360.6 C225.4,361.5 223.8,362.0 222.5,362.2 C221.2,362.4 218.8,362.0 218.0,362.0" fill="none" stroke="#7a3b33" stroke-width="1.0" stroke-linecap="round" stroke-linejoin="round"/>
<path d="M215.6,369.8 C216.2,369.9 218.1,370.3 219.5,370.2 C220.9,370.1 223.1,369.2 223.8,369.0" fill="none" stroke="#6b2f29" stroke-width="1.2" stroke-linecap="round" stroke-linejoin="round"/>
<path d="M80.0,459.0 C80.3,456.3 80.3,447.7 82.0,443.0 C83.7,438.3 86.3,434.3 90.0,431.0 C93.7,427.7 98.7,424.8 104.0,423.0 C109.3,421.2 119.0,420.5 122.0,420.0" fill="none" stroke="#8c4b42" stroke-width="1.0" stroke-linecap="round" stroke-linejoin="round"/>
<path d="M82.0,462.0 C82.3,459.5 82.3,451.5 84.0,447.0 C85.7,442.5 88.7,438.2 92.0,435.0 C95.3,431.8 102.0,429.2 104.0,428.0" fill="none" stroke="#8c4b42" stroke-width="1.0" stroke-linecap="round" stroke-linejoin="round"/>
<path d="M88.0,475.0 C89.7,474.0 94.7,471.2 98.0,469.0 C101.3,466.8 106.3,463.2 108.0,462.0" fill="none" stroke="#8c4b42" stroke-width="1.0" stroke-linecap="round" stroke-linejoin="round"/>
<path d="M132.0,480.0 C131.8,481.7 131.7,486.7 131.0,490.0 C130.3,493.3 128.5,498.3 128.0,500.0" fill="none" stroke="#8c4b42" stroke-width="1.0" stroke-linecap="round" stroke-linejoin="round"/>
<path d="M91.0,494.0 C90.0,496.3 86.8,503.3 85.0,508.0 C83.2,512.7 80.8,519.7 80.0,522.0" fill="none" stroke="#8c4b42" stroke-width="1.0" stroke-linecap="round" stroke-linejoin="round"/>
<path d="M64.0,518.0 C62.3,520.0 56.7,526.0 54.0,530.0 C51.3,534.0 48.7,537.3 48.0,542.0 C47.3,546.7 48.5,552.7 50.0,558.0 C51.5,563.3 55.0,569.0 57.0,574.0 C59.0,579.0 61.2,585.7 62.0,588.0" fill="none" stroke="#8c4b42" stroke-width="1.0" stroke-linecap="round" stroke-linejoin="round"/>
<path d="M66.0,520.0 C64.7,522.0 60.2,527.8 58.0,532.0 C55.8,536.2 53.5,540.7 53.0,545.0 C52.5,549.3 53.5,553.0 55.0,558.0 C56.5,563.0 60.3,569.7 62.0,575.0 C63.7,580.3 64.5,587.5 65.0,590.0" fill="none" stroke="#8c4b42" stroke-width="1.0" stroke-linecap="round" stroke-linejoin="round"/>
<path d="M79.0,548.0 C79.3,549.5 80.5,554.0 81.0,557.0 C81.5,560.0 81.8,564.5 82.0,566.0" fill="none" stroke="#8c4b42" stroke-width="1.0" stroke-linecap="round" stroke-linejoin="round"/>
<path d="M70.7,604.4 L71.5,612.7" fill="none" stroke="#8c4b42" stroke-width="1.0" stroke-linecap="round" stroke-linejoin="round"/>
<path d="M63.8,590.0 L64.7,594.6" fill="none" stroke="#8c4b42" stroke-width="1.0" stroke-linecap="round" stroke-linejoin="round"/>
<path d="M178.0,426.0 C180.7,426.1 188.7,425.3 194.0,426.5 C199.3,427.7 207.3,431.9 210.0,433.0" fill="none" stroke="#8c4b42" stroke-width="1.0" stroke-linecap="round" stroke-linejoin="round"/>
<path d="M220.0,430.0 C221.8,429.3 227.3,427.2 231.0,426.0 C234.7,424.8 240.2,423.5 242.0,423.0" fill="none" stroke="#8c4b42" stroke-width="1.0" stroke-linecap="round" stroke-linejoin="round"/>
<path d="M192.0,399.0 C192.3,400.5 193.2,405.0 194.0,408.0 C194.8,411.0 196.5,415.5 197.0,417.0" fill="none" stroke="#8c4b42" stroke-width="1.0" stroke-linecap="round" stroke-linejoin="round"/>
<path d="M224.0,400.0 C224.2,401.2 225.2,404.7 225.5,407.0 C225.8,409.3 225.9,412.8 226.0,414.0" fill="none" stroke="#8c4b42" stroke-width="1.0" stroke-linecap="round" stroke-linejoin="round"/>
<path d="M218.0,444.0 C218.2,444.7 218.7,446.7 219.0,448.0 C219.3,449.3 219.8,451.3 220.0,452.0" fill="none" stroke="#8c4b42" stroke-width="1.0" stroke-linecap="round" stroke-linejoin="round"/>
<path d="M143.0,418.0 C144.2,418.5 147.7,420.2 150.0,421.0 C152.3,421.8 155.8,422.7 157.0,423.0" fill="none" stroke="#8c4b42" stroke-width="1.0" stroke-linecap="round" stroke-linejoin="round"/>
<path d="M281.0,463.0 C281.5,465.2 284.0,471.7 284.0,476.0 C284.0,480.3 282.2,485.3 281.0,489.0 C279.8,492.7 277.7,496.5 277.0,498.0" fill="none" stroke="#8c4b42" stroke-width="1.0" stroke-linecap="round" stroke-linejoin="round"/>
<path d="M296.3,536.6 C297.9,537.4 302.7,541.2 305.6,541.4 C308.5,541.5 312.5,538.1 313.9,537.5" fill="none" stroke="#8c4b42" stroke-width="1.0" stroke-linecap="round" stroke-linejoin="round"/>
<path d="M317.6,555.1 C318.2,558.6 320.1,568.8 321.5,576.0 C322.9,583.2 325.2,594.4 325.9,598.1" fill="none" stroke="#8c4b42" stroke-width="1.0" stroke-linecap="round" stroke-linejoin="round"/>
<path d="M317.6,587.0 C317.5,588.7 317.2,593.7 317.0,597.0 C316.8,600.3 316.7,605.3 316.6,607.0" fill="none" stroke="#8c4b42" stroke-width="1.0" stroke-linecap="round" stroke-linejoin="round"/>
<path d="M281.5,541.7 C282.4,542.6 285.1,545.5 287.0,547.0 C288.9,548.5 291.7,549.9 292.6,550.5" fill="none" stroke="#8c4b42" stroke-width="1.0" stroke-linecap="round" stroke-linejoin="round"/>
<path d="M96.2,643.2 C96.2,644.0 96.2,646.4 96.4,648.0 C96.6,649.6 97.0,652.2 97.1,653.0" fill="none" stroke="#8c4b42" stroke-width="1.0" stroke-linecap="round" stroke-linejoin="round"/>
<path d="M97.6,643.4 C97.7,644.2 98.1,646.5 98.2,648.0 C98.3,649.5 98.4,651.7 98.4,652.4" fill="none" stroke="#8c4b42" stroke-width="1.0" stroke-linecap="round" stroke-linejoin="round"/>
<path d="M303.5,645.0 C303.1,646.0 300.9,649.0 301.0,651.0 C301.1,653.0 302.7,657.2 304.0,657.0 C305.3,656.8 308.2,651.2 309.0,650.0" fill="none" stroke="#8c4b42" stroke-width="1.0" stroke-linecap="round" stroke-linejoin="round"/>
<path d="M318.2,651.0 C318.6,651.3 320.7,651.0 320.4,653.0 C320.1,655.0 317.4,661.8 316.4,663.2 C315.4,664.6 314.2,663.4 314.5,661.4 C314.8,659.4 317.6,652.7 318.2,651.0" fill="none" stroke="#8c4b42" stroke-width="1.0" stroke-linecap="round" stroke-linejoin="round"/>
<path d="M306.0,657.0 L310.5,652.0" fill="none" stroke="#8c4b42" stroke-width="1.0" stroke-linecap="round" stroke-linejoin="round"/>
<path d="M135.0,738.0 C135.2,740.0 135.5,745.3 136.0,750.0 C136.5,754.7 137.5,760.7 138.0,766.0 C138.5,771.3 138.8,779.3 139.0,782.0" fill="none" stroke="#8c4b42" stroke-width="1.0" stroke-linecap="round" stroke-linejoin="round"/>
<path d="M156.0,746.0 C155.5,748.0 154.0,754.0 153.0,758.0 C152.0,762.0 151.0,766.7 150.0,770.0 C149.0,773.3 147.5,776.7 147.0,778.0" fill="none" stroke="#8c4b42" stroke-width="1.0" stroke-linecap="round" stroke-linejoin="round"/>
<path d="M159.0,752.0 C159.1,754.2 159.2,761.0 159.5,765.0 C159.8,769.0 160.8,774.2 161.0,776.0" fill="none" stroke="#8c4b42" stroke-width="1.0" stroke-linecap="round" stroke-linejoin="round"/>
<path d="M146.0,793.0 C146.2,794.5 146.3,798.7 147.0,802.0 C147.7,805.3 149.5,811.2 150.0,813.0" fill="none" stroke="#8c4b42" stroke-width="1.0" stroke-linecap="round" stroke-linejoin="round"/>
<path d="M172.0,786.0 C172.3,787.7 174.2,791.7 174.0,796.0 C173.8,800.3 171.5,809.3 171.0,812.0" fill="none" stroke="#8c4b42" stroke-width="1.0" stroke-linecap="round" stroke-linejoin="round"/>
<path d="M126.0,828.0 C125.0,829.3 121.5,833.0 120.0,836.0 C118.5,839.0 117.5,844.3 117.0,846.0" fill="none" stroke="#8c4b42" stroke-width="1.0" stroke-linecap="round" stroke-linejoin="round"/>
<path d="M138.0,836.0 C136.7,837.0 132.7,839.3 130.0,842.0 C127.3,844.7 123.3,850.3 122.0,852.0" fill="none" stroke="#8c4b42" stroke-width="1.0" stroke-linecap="round" stroke-linejoin="round"/>
<path d="M138.0,836.0 C138.0,839.7 138.5,851.3 138.0,858.0 C137.5,864.7 135.5,873.0 135.0,876.0" fill="none" stroke="#8c4b42" stroke-width="1.0" stroke-linecap="round" stroke-linejoin="round"/>
<path d="M169.0,825.0 C168.3,826.0 166.5,829.2 165.0,831.0 C163.5,832.8 160.8,835.2 160.0,836.0" fill="none" stroke="#8c4b42" stroke-width="1.0" stroke-linecap="round" stroke-linejoin="round"/>
<path d="M244.0,775.0 C243.5,776.2 242.0,779.5 241.0,782.0 C240.0,784.5 238.5,788.7 238.0,790.0" fill="none" stroke="#8c4b42" stroke-width="1.0" stroke-linecap="round" stroke-linejoin="round"/>
<path d="M231.0,800.0 C231.2,801.3 231.7,805.7 232.0,808.0 C232.3,810.3 232.8,813.0 233.0,814.0" fill="none" stroke="#8c4b42" stroke-width="1.0" stroke-linecap="round" stroke-linejoin="round"/>
<path d="M256.0,806.0 C255.3,807.0 253.3,810.2 252.0,812.0 C250.7,813.8 248.7,816.2 248.0,817.0" fill="none" stroke="#8c4b42" stroke-width="1.0" stroke-linecap="round" stroke-linejoin="round"/>
<path d="M241.0,824.0 C240.8,824.7 239.8,826.7 239.6,828.0 C239.4,829.3 239.9,831.3 240.0,832.0" fill="none" stroke="#8c4b42" stroke-width="1.0" stroke-linecap="round" stroke-linejoin="round"/>
<path d="M223.6,836.0 C223.7,839.7 224.5,850.7 224.4,858.0 C224.3,865.3 223.2,876.3 223.0,880.0" fill="none" stroke="#8c4b42" stroke-width="1.0" stroke-linecap="round" stroke-linejoin="round"/>
</g>
<g id="oldman">
<circle cx="1539.7" cy="950.6" r="22" fill="none" stroke="#070707" stroke-width="10.4"/>
<rect x="1560" y="723.2" width="35" height="11.4" rx="5.7" ry="5.7" fill="#070707"/>
<path d="M1596.0,740.5 C1588.0,740.5 1557.8,740.5 1548.0,740.8 C1538.2,741.1 1539.8,741.3 1537.0,742.5 C1534.2,743.7 1532.9,745.4 1531.5,748.0 C1530.1,750.6 1529.0,756.3 1528.5,758.0" fill="none" stroke="#a8aeae" stroke-width="8" stroke-linecap="butt" stroke-linejoin="round"/>
<path d="M1530.5,750.0 C1528.6,756.0 1519.7,783.7 1516.0,795.0 C1512.3,806.3 1505.9,823.7 1502.5,835.0 C1499.1,846.3 1493.2,867.3 1490.5,880.0 C1487.8,892.7 1483.7,923.3 1482.6,930.0" fill="none" stroke="#a8aeae" stroke-width="10.5" stroke-linecap="butt" stroke-linejoin="round"/>
<path d="M1770,652 L1787.5,652 L1784,772 L1760,772 Z" fill="#323434"/>
<path d="M1652,771 L1781,771 L1779,831 L1627,831 L1630,818 L1652,811 Z" fill="#323434"/>
<path d="M1634,842 L1716,903" fill="none" stroke="#070707" stroke-width="7.6" stroke-linecap="butt"/>
<path d="M1706,842 L1619,908.5" fill="none" stroke="#070707" stroke-width="7.6" stroke-linecap="butt"/>
<path d="M1602,898.6 L1650,898.6" fill="none" stroke="#a8aeae" stroke-width="8.6" stroke-linecap="butt"/>
<path d="M1652,911.5 L1780,911.5" fill="none" stroke="#a8aeae" stroke-width="8.6" stroke-linecap="butt"/>
<g transform="rotate(2.5 1800.6 871.3)">
<ellipse cx="1800.6" cy="871.3" rx="71.2" ry="85.3" fill="none" stroke="#a8aeae" stroke-width="7.6"/>
<path d="M1810.6,872.0 L1869.4,877.1" stroke="#c3c8c6" stroke-width="1.5"/>
<path d="M1807.2,878.8 L1845.9,933.9" stroke="#c3c8c6" stroke-width="1.5"/>
<path d="M1799.9,881.3 L1795.8,954.1" stroke="#c3c8c6" stroke-width="1.5"/>
<path d="M1793.1,877.9 L1748.5,925.8" stroke="#c3c8c6" stroke-width="1.5"/>
<path d="M1790.6,870.6 L1731.8,865.5" stroke="#c3c8c6" stroke-width="1.5"/>
<path d="M1794.0,863.8 L1755.3,808.7" stroke="#c3c8c6" stroke-width="1.5"/>
<path d="M1801.3,861.3 L1805.4,788.5" stroke="#c3c8c6" stroke-width="1.5"/>
<path d="M1808.1,864.7 L1852.7,816.8" stroke="#c3c8c6" stroke-width="1.5"/>
</g>
<path d="M1783.0,955.0 C1783.6,936.9 1786.8,835.6 1788.0,800.0 C1789.2,764.4 1792.7,668.7 1793.5,650.0 C1794.3,631.3 1793.9,642.3 1794.5,640.0 C1795.1,637.7 1797.4,632.0 1799.0,630.5 C1800.6,629.0 1805.8,627.3 1808.0,626.8 C1810.2,626.3 1816.8,626.6 1818.0,626.6" fill="none" stroke="#a8aeae" stroke-width="9" stroke-linecap="butt" stroke-linejoin="round"/>
<rect x="1814.5" y="619" width="49" height="15.2" rx="7.6" ry="7.6" fill="#070707"/>
<g transform="rotate(2.5 1800.6 871.3)">
<ellipse cx="1800.6" cy="871.3" rx="83.8" ry="100.7" fill="none" stroke="#070707" stroke-width="11.8"/>
<circle cx="1800.6" cy="871.3" r="13" fill="#a8aeae"/><circle cx="1800.6" cy="871.3" r="8.6" fill="#3a3c3c"/>
</g>
<path d="M1780.0,834.0 C1766.0,834.0 1655.4,833.9 1640.0,834.0 C1624.6,834.1 1628.4,834.7 1626.0,835.5 C1623.6,836.3 1617.5,840.4 1616.0,842.0 C1614.5,843.6 1614.5,841.0 1611.5,852.0 C1608.5,863.0 1588.1,942.0 1585.5,952.0" fill="none" stroke="#a8aeae" stroke-width="8.8" stroke-linecap="butt" stroke-linejoin="round"/>
<path d="M1535.0,760.0 C1538.2,758.3 1544.7,755.7 1548.0,754.5 C1551.3,753.3 1555.7,751.8 1560.0,751.0 C1564.3,750.2 1574.7,749.3 1580.0,748.5 C1585.3,747.7 1593.3,745.6 1600.0,745.0 C1606.7,744.4 1622.8,743.6 1630.0,744.0 C1637.2,744.4 1644.7,746.1 1654.0,748.0 C1663.3,749.9 1694.1,754.8 1700.0,758.0 C1705.9,761.2 1704.0,770.1 1698.0,772.0 C1692.0,773.9 1661.1,766.8 1655.0,772.0 C1648.9,777.2 1655.1,804.9 1652.0,811.0 C1648.9,817.1 1635.6,815.5 1632.0,818.0 C1628.4,820.5 1627.6,825.1 1625.0,830.0 C1622.4,834.9 1615.4,847.7 1612.5,855.0 C1609.6,862.3 1605.0,878.3 1603.0,885.0 C1601.0,891.7 1599.2,900.3 1597.5,905.0 C1595.8,909.7 1593.5,917.1 1590.5,920.0 C1587.5,922.9 1579.6,926.9 1575.0,927.0 C1570.4,927.1 1560.7,922.4 1556.0,921.0 C1551.3,919.6 1544.3,917.4 1540.0,916.5 C1535.7,915.6 1527.7,914.8 1524.0,914.5 C1520.3,914.2 1514.5,914.6 1512.0,914.0 C1509.5,913.4 1506.7,911.9 1505.0,910.0 C1503.3,908.1 1500.0,902.9 1499.0,900.0 C1498.0,897.1 1497.2,893.1 1497.5,888.0 C1497.8,882.9 1500.0,868.4 1501.0,862.0 C1502.0,855.6 1503.9,845.9 1505.0,840.0 C1506.1,834.1 1508.5,823.2 1509.5,817.5 C1510.5,811.8 1511.6,802.1 1512.5,797.0 C1513.4,791.9 1514.5,783.0 1516.0,779.0 C1517.5,775.0 1521.5,769.5 1524.0,767.0 C1526.5,764.5 1531.8,761.7 1535.0,760.0 Z" fill="#44696c" />
<path d="M1635.0,771.0 C1629.2,771.3 1610.0,770.2 1600.0,773.0 C1590.0,775.8 1580.7,781.0 1575.0,787.5 C1569.3,794.0 1568.9,802.8 1566.0,812.0 C1563.1,821.2 1560.5,833.2 1557.5,842.5 C1554.5,851.8 1550.9,860.1 1548.0,868.0 C1545.1,875.9 1541.8,883.0 1540.0,890.0 C1538.2,897.0 1537.9,906.7 1537.5,910.0" fill="none" stroke="#3a4c52" stroke-width="2.6" stroke-linecap="round" stroke-linejoin="round"/>
<path d="M1570.0,842.5 C1568.5,845.4 1563.9,854.2 1561.0,860.0 C1558.1,865.8 1553.9,874.6 1552.5,877.5" fill="none" stroke="#3a4c52" stroke-width="2.0" stroke-linecap="round" stroke-linejoin="round"/>
<path d="M1664.0,644.0 C1661.5,642.6 1658.9,640.2 1657.0,639.5 C1655.1,638.8 1652.0,638.0 1650.0,638.5 C1648.0,639.0 1643.9,641.5 1642.0,643.0 C1640.1,644.5 1637.7,647.7 1636.0,650.0 C1634.3,652.3 1630.6,657.3 1629.0,660.0 C1627.4,662.7 1625.7,666.5 1624.0,670.0 C1622.3,673.5 1618.1,682.5 1616.0,686.0 C1613.9,689.5 1609.9,693.6 1608.0,696.0 C1606.1,698.4 1603.5,701.9 1602.0,704.0 C1600.5,706.1 1597.9,709.9 1597.0,712.0 C1596.1,714.1 1595.3,717.9 1595.0,720.0 C1594.7,722.1 1594.4,726.0 1594.5,728.0 C1594.6,730.0 1595.0,733.1 1596.0,735.0 C1597.0,736.9 1600.3,740.6 1602.0,742.0 C1603.7,743.4 1607.1,744.8 1609.0,745.5 C1610.9,746.2 1612.9,746.7 1616.0,747.0 C1619.1,747.3 1627.7,748.0 1632.0,747.5 C1636.3,747.0 1643.7,742.7 1648.0,743.0 C1652.3,743.3 1660.3,748.1 1664.0,750.0 C1667.7,751.9 1672.8,755.4 1676.0,757.0 C1679.2,758.6 1685.2,760.2 1688.0,762.0 C1690.8,763.8 1691.4,769.3 1697.0,770.5 C1702.6,771.7 1721.3,771.0 1730.0,771.0 C1738.7,771.0 1757.5,773.3 1762.0,770.5 C1766.5,767.7 1762.9,755.4 1764.0,750.0 C1765.1,744.6 1768.8,736.7 1770.0,730.0 C1771.2,723.3 1772.5,708.0 1773.0,700.0 C1773.5,692.0 1773.8,676.7 1773.5,670.0 C1773.2,663.3 1772.0,654.8 1770.5,650.0 C1769.0,645.2 1765.0,637.7 1762.0,634.0 C1759.0,630.3 1751.2,624.2 1748.0,622.0 C1744.8,619.8 1740.7,618.4 1738.0,617.5 C1735.3,616.6 1730.9,613.3 1728.0,615.0 C1725.1,616.7 1719.5,626.6 1716.0,630.0 C1712.5,633.4 1705.5,638.2 1702.0,640.5 C1698.5,642.8 1693.5,646.2 1690.0,647.5 C1686.5,648.8 1679.5,650.5 1676.0,650.0 C1672.5,649.5 1666.5,645.4 1664.0,644.0 Z" fill="#a7c6c3" />
<path d="M1607.0,709.0 C1610.8,707.2 1622.5,701.1 1630.0,698.0 C1637.5,694.9 1646.7,692.3 1652.0,690.5 C1657.3,688.7 1659.2,687.5 1662.0,687.0 C1664.8,686.5 1667.8,687.4 1669.0,687.5" fill="none" stroke="#7d9d9c" stroke-width="2.3" stroke-linecap="round" stroke-linejoin="round"/>
<path d="M1664.0,662.0 C1662.7,664.3 1658.3,671.7 1656.0,676.0 C1653.7,680.3 1651.0,686.0 1650.0,688.0" fill="none" stroke="#7d9d9c" stroke-width="2.2" stroke-linecap="round" stroke-linejoin="round"/>
<path d="M1731.0,654.0 C1729.5,656.0 1724.5,662.0 1722.0,666.0 C1719.5,670.0 1717.6,674.0 1716.0,678.0 C1714.4,682.0 1713.1,688.0 1712.5,690.0" fill="none" stroke="#7d9d9c" stroke-width="2.2" stroke-linecap="round" stroke-linejoin="round"/>
<path d="M1706.0,711.0 C1707.3,711.3 1711.7,712.0 1714.0,713.0 C1716.3,714.0 1718.3,715.5 1720.0,717.0 C1721.7,718.5 1723.3,721.2 1724.0,722.0" fill="none" stroke="#7d9d9c" stroke-width="1.6" stroke-linecap="round" stroke-linejoin="round"/>
<path d="M1708.0,716.0 C1709.0,716.6 1712.5,718.0 1714.0,719.5 C1715.5,721.0 1716.5,724.1 1717.0,725.0" fill="none" stroke="#7d9d9c" stroke-width="1.2" stroke-linecap="round" stroke-linejoin="round"/>
<path d="M1766.0,690.0 C1765.3,695.0 1763.5,711.3 1762.0,720.0 C1760.5,728.7 1757.8,738.3 1757.0,742.0" fill="none" stroke="#7d9d9c" stroke-width="1.3" stroke-linecap="round" stroke-linejoin="round"/>
<path d="M1664.0,650.0 C1666.0,650.8 1671.7,654.2 1676.0,654.5 C1680.3,654.8 1686.0,653.1 1690.0,651.5 C1694.0,649.9 1698.3,646.1 1700.0,645.0" fill="none" stroke="#7d9d9c" stroke-width="1.5" stroke-linecap="round" stroke-linejoin="round"/>
<path d="M1661.0,641.5 C1662.2,642.5 1666.0,646.1 1668.5,647.6 C1671.0,649.1 1673.4,649.9 1676.0,650.4 C1678.6,650.9 1681.3,651.0 1684.0,650.4 C1686.7,649.8 1689.6,648.5 1692.0,647.0 C1694.4,645.5 1697.4,642.4 1698.5,641.5" fill="none" stroke="#93bbb5" stroke-width="4.2" stroke-linecap="round" stroke-linejoin="round"/>
<path d="M1674.0,690.5 C1675.2,688.8 1679.3,689.0 1682.0,688.5 C1684.7,688.0 1689.0,687.4 1692.0,687.0 C1695.0,686.6 1699.2,686.1 1702.0,686.0 C1704.8,685.9 1709.4,685.3 1711.0,686.5 C1712.6,687.7 1712.5,691.5 1712.5,694.0 C1712.5,696.5 1711.7,700.5 1711.0,703.0 C1710.3,705.5 1709.3,708.9 1708.0,710.5 C1706.7,712.1 1703.8,713.2 1702.0,714.0 C1700.2,714.8 1698.1,715.4 1696.0,715.5 C1693.9,715.6 1690.4,715.0 1688.0,714.5 C1685.6,714.0 1681.8,713.1 1680.0,712.0 C1678.2,710.9 1676.9,708.8 1676.0,707.0 C1675.1,705.2 1674.3,702.5 1674.0,700.0 C1673.7,697.5 1672.8,692.2 1674.0,690.5 Z" fill="#dfa5a1" />
<path d="M1690.0,694.5 C1691.7,694.4 1696.8,693.9 1700.0,694.0 C1703.2,694.1 1707.5,694.8 1709.0,695.0" fill="none" stroke="#cf8f8b" stroke-width="1.1" stroke-linecap="round" stroke-linejoin="round"/>
<path d="M1692.0,702.0 C1693.3,702.4 1697.3,704.0 1700.0,704.5 C1702.7,705.0 1706.7,704.9 1708.0,705.0" fill="none" stroke="#cf8f8b" stroke-width="1.1" stroke-linecap="round" stroke-linejoin="round"/>
<ellipse cx="1702" cy="694" rx="2.6" ry="1.3" fill="#b9d7d6"/>
<path d="M1703.0,610.5 C1705.1,608.9 1712.7,609.6 1715.9,610.2 C1719.1,610.8 1729.7,613.6 1730.6,615.3 C1731.5,617.0 1726.0,622.6 1723.7,625.0 C1721.4,627.4 1713.7,633.3 1710.7,635.6 C1707.7,637.9 1700.0,644.5 1697.8,645.0 C1695.6,645.5 1692.0,642.5 1692.0,640.0 C1692.0,637.5 1696.7,627.4 1698.0,624.0 C1699.3,620.6 1700.9,612.1 1703.0,610.5 Z" fill="#dfa5a1" />
<path d="M1640.8,599.0 C1640.0,597.9 1640.8,595.0 1641.2,593.0 C1641.6,591.0 1643.0,586.1 1644.0,584.0 C1645.0,581.9 1647.4,578.7 1649.0,577.0 C1650.6,575.3 1654.0,572.8 1656.0,571.6 C1658.0,570.4 1661.9,568.8 1664.0,568.2 C1666.1,567.6 1669.9,567.0 1672.0,566.9 C1674.1,566.8 1677.9,567.1 1680.0,567.5 C1682.1,567.9 1686.0,569.1 1688.0,570.0 C1690.0,570.9 1693.3,573.2 1695.0,574.5 C1696.7,575.8 1699.2,578.3 1700.5,580.0 C1701.8,581.7 1704.1,585.1 1705.0,587.0 C1705.9,588.9 1707.1,592.0 1707.6,594.0 C1708.1,596.0 1708.7,600.0 1708.8,602.0 C1708.9,604.0 1708.7,607.4 1708.4,609.0 C1708.1,610.6 1707.4,612.8 1706.5,614.0 C1705.6,615.2 1703.7,617.7 1702.0,618.0 C1700.3,618.3 1696.4,617.1 1694.0,616.0 C1691.6,614.9 1687.2,611.9 1684.0,610.0 C1680.8,608.1 1673.7,603.6 1670.0,602.0 C1666.3,600.4 1659.1,598.1 1656.0,598.0 C1652.9,597.9 1649.0,600.9 1647.0,601.0 C1645.0,601.1 1641.6,600.1 1640.8,599.0 Z" fill="#c7cdc6" stroke="#b2bab2" stroke-width="0.8"/>
<path d="M1642.0,599.0 C1642.2,597.2 1645.8,595.2 1647.0,594.0 C1648.2,592.8 1651.2,590.1 1652.5,589.0 C1653.8,587.9 1657.1,584.7 1658.2,584.6 C1659.3,584.5 1661.0,587.1 1662.0,588.0 C1663.0,588.9 1665.3,591.6 1666.7,592.6 C1668.1,593.6 1672.7,595.6 1674.4,596.8 C1676.1,598.0 1679.2,601.9 1680.9,603.0 C1682.6,604.1 1687.2,605.4 1688.7,606.0 C1690.2,606.6 1692.2,607.3 1694.0,608.5 C1695.8,609.7 1703.2,613.7 1704.3,615.9 C1705.4,618.1 1704.0,625.0 1703.4,627.6 C1702.8,630.2 1700.4,636.0 1699.1,638.0 C1697.8,640.0 1694.4,643.4 1692.6,644.6 C1690.8,645.8 1685.6,648.1 1683.5,648.5 C1681.4,648.9 1676.7,648.7 1674.4,648.0 C1672.1,647.3 1666.4,644.0 1664.1,642.2 C1661.8,640.4 1656.7,635.1 1655.0,632.8 C1653.3,630.5 1650.3,625.1 1649.2,622.4 C1648.1,619.7 1646.1,612.1 1645.3,609.4 C1644.5,606.7 1641.8,600.8 1642.0,599.0 Z" fill="#dfa5a1" />
<path d="M1703.6,614.0 C1703.4,616.0 1703.4,622.2 1702.6,626.0 C1701.8,629.8 1700.2,634.1 1698.6,637.0 C1697.0,639.9 1693.9,642.5 1693.0,643.6" fill="none" stroke="#c98b89" stroke-width="1.6" stroke-linecap="round" stroke-linejoin="round"/>
<ellipse cx="1698.4" cy="605.9" rx="6.9" ry="10" fill="#dfa5a1" transform="rotate(6 1698.4 605.9)"/>
<ellipse cx="1696.8" cy="606.4" rx="2.6" ry="4.8" fill="#bb9195" transform="rotate(6 1696.8 606.4)"/>
<path d="M1645.3,608.8 C1646.2,608.3 1649.0,606.8 1651.0,606.0 C1653.0,605.2 1655.6,604.8 1657.6,604.3 C1659.6,603.8 1661.2,603.5 1663.0,603.3 C1664.8,603.1 1667.7,603.0 1668.6,603.0" fill="none" stroke="#3d2b31" stroke-width="1.7" stroke-linecap="round" stroke-linejoin="round"/>
<path d="M1650.5,618.0 C1651.0,617.8 1652.4,616.7 1653.5,616.8 C1654.6,616.9 1656.4,618.2 1657.0,618.5" fill="none" stroke="#3d2b31" stroke-width="1.0" stroke-linecap="round" stroke-linejoin="round"/>
<circle cx="1654" cy="622.3" r="1.9" fill="#2a2326"/>
<path d="M1665.4,611.4 C1666.3,611.6 1669.1,612.5 1671.0,612.8 C1672.9,613.1 1676.0,613.2 1677.0,613.3" fill="none" stroke="#3d2b31" stroke-width="1.8" stroke-linecap="round" stroke-linejoin="round"/>
<path d="M1658.9,619.8 C1658.9,620.7 1658.8,623.5 1659.0,625.0 C1659.2,626.5 1659.7,627.8 1660.2,628.9 C1660.7,630.0 1661.2,631.1 1662.0,631.8 C1662.8,632.4 1663.7,632.7 1664.7,632.8 C1665.7,632.9 1667.1,632.5 1668.0,632.2 C1668.9,631.9 1669.5,631.5 1669.9,630.8 C1670.3,630.1 1670.3,628.5 1670.4,628.0" fill="none" stroke="#3d2b31" stroke-width="1.2" stroke-linecap="round" stroke-linejoin="round"/>
<path d="M1668.0,638.2 C1668.6,638.1 1670.6,638.0 1671.8,637.6 C1673.0,637.2 1674.5,636.3 1675.1,636.0" fill="none" stroke="#3d2b31" stroke-width="1.3" stroke-linecap="round" stroke-linejoin="round"/>
<path d="M1670.6,618.5 C1671.2,619.0 1673.3,620.3 1674.4,621.4 C1675.5,622.5 1676.0,623.3 1677.0,625.0 C1678.0,626.7 1679.5,629.3 1680.6,631.5 C1681.7,633.7 1683.0,636.9 1683.5,638.0" fill="none" stroke="#3d2b31" stroke-width="1.1" stroke-linecap="round" stroke-linejoin="round"/>
<path d="M1675.7,619.8 C1676.2,620.7 1677.7,623.3 1678.6,625.0 C1679.5,626.7 1680.5,629.3 1680.9,630.2" fill="none" stroke="#3d2b31" stroke-width="0.9" stroke-linecap="round" stroke-linejoin="round"/>
<path d="M1683.5,615.3 C1683.8,616.3 1684.3,619.5 1685.0,621.5 C1685.7,623.5 1686.6,625.9 1687.4,627.6 C1688.2,629.3 1689.1,630.4 1690.0,631.5 C1690.9,632.6 1692.2,633.7 1692.6,634.1" fill="none" stroke="#3d2b31" stroke-width="1.0" stroke-linecap="round" stroke-linejoin="round"/>
<rect x="1685" y="724" width="97" height="11.4" rx="5.7" ry="5.7" fill="#070707"/>
<path d="M1786.0,741.0 C1775.4,740.9 1691.8,740.2 1680.0,740.2 C1668.2,740.2 1670.0,740.4 1668.0,741.0 C1666.0,741.6 1661.5,744.6 1660.5,746.0 C1659.5,747.4 1658.0,749.6 1657.5,755.0 C1657.0,760.4 1656.5,787.5 1656.0,800.0 C1655.5,812.5 1652.5,869.5 1652.0,880.0 C1651.5,890.5 1650.3,900.5 1650.5,905.0 C1650.7,909.5 1653.0,921.5 1654.0,925.0 C1655.0,928.5 1659.8,937.6 1661.0,940.0 C1662.2,942.4 1665.5,947.6 1666.0,948.5" fill="none" stroke="#a8aeae" stroke-width="10.5" stroke-linecap="round" stroke-linejoin="round"/>
<circle cx="1663.6" cy="948.6" r="21.5" fill="none" stroke="#070707" stroke-width="11.6"/>
<path d="M1652.0,900.0 C1652.3,902.9 1652.9,916.9 1654.0,922.0 C1655.1,927.1 1658.5,934.6 1660.0,938.0 C1661.5,941.4 1664.8,946.2 1665.5,947.5" fill="none" stroke="#a8aeae" stroke-width="10.5" stroke-linecap="round" stroke-linejoin="round"/>
<path d="M1460.4,936.0 C1459.6,934.7 1462.8,931.7 1464.0,930.5 C1465.2,929.3 1467.3,927.6 1469.2,926.7 C1471.1,925.8 1475.5,924.3 1478.0,923.6 C1480.5,922.9 1485.6,921.9 1488.1,921.4 C1490.6,920.9 1494.9,920.0 1497.0,919.6 C1499.1,919.2 1502.1,919.0 1504.2,918.4 C1506.3,917.8 1510.3,915.5 1512.9,915.0 C1515.5,914.5 1521.5,914.1 1524.0,914.5 C1526.5,914.9 1531.5,915.9 1532.0,918.0 C1532.5,920.1 1529.9,926.5 1528.0,930.0 C1526.1,933.5 1523.1,942.3 1518.0,944.0 C1512.9,945.7 1496.4,943.5 1490.0,943.0 C1483.6,942.5 1473.9,941.4 1470.0,940.5 C1466.1,939.6 1461.2,937.3 1460.4,936.0 Z" fill="#4e3233" />
<path d="M1490.5,942.0 C1489.8,940.9 1493.6,937.5 1495.0,936.0 C1496.4,934.5 1499.6,932.1 1501.3,931.0 C1503.0,929.9 1506.1,928.4 1508.0,927.6 C1509.9,926.8 1513.4,925.9 1515.8,925.0 C1518.2,924.1 1523.3,922.1 1526.0,921.0 C1528.7,919.9 1533.6,917.1 1536.3,916.6 C1539.0,916.1 1543.4,916.4 1546.0,917.0 C1548.6,917.6 1552.2,919.7 1556.0,921.0 C1559.8,922.3 1572.1,925.0 1574.4,926.7 C1576.7,928.4 1573.4,932.1 1573.0,934.0 C1572.6,935.9 1571.9,939.2 1571.3,941.3 C1570.7,943.4 1570.9,948.3 1568.3,949.5 C1565.7,950.7 1558.4,950.4 1552.0,950.0 C1545.6,949.6 1526.9,947.3 1520.0,946.5 C1513.1,945.7 1503.9,944.6 1500.0,944.0 C1496.1,943.4 1491.2,943.1 1490.5,942.0 Z" fill="#4e3233" />
<path d="M1491.0,941.5 C1491.8,940.4 1494.0,936.9 1496.0,935.0 C1498.0,933.1 1500.3,931.5 1503.0,930.0 C1505.7,928.5 1510.5,926.7 1512.0,926.0" fill="none" stroke="#3b2526" stroke-width="1.4" stroke-linecap="round" stroke-linejoin="round"/>
<path d="M1504.0,920.0 C1505.7,919.8 1510.7,919.6 1514.0,919.0 C1517.3,918.4 1522.3,916.9 1524.0,916.5" fill="none" stroke="#5c3d3d" stroke-width="2.2" stroke-linecap="round" stroke-linejoin="round"/>
<path d="M1454.6,936 L1553,950 L1550,966 L1450.2,951.6 Z" fill="#4b5151"/>
<path d="M1454.6,936 L1553,950 L1552.4,953 L1454,939 Z" fill="#5a6060"/>
<path d="M1553.4,948.4 Q1551,948.2 1550.6,950.6 L1548.6,963.6 Q1548.4,965.6 1550.6,965.9 L1590,969.2 Q1592.4,969.4 1592.7,967 L1594.8,953.6 Q1595,951.6 1592.8,951.4 Z" fill="#535958"/>
</g>
</svg>

<!-- ============ LAYER 3: rings (conic gradients) ============ -->
<div class="ring" style="left:455.10px;top:379.15px;width:193.10px;height:193.10px;background:conic-gradient(from 0deg,#4d84cb 0deg,#5b8fd1 12deg,#b4cdee 28deg,#f3f7fd 42deg,#f0f5fc 60deg,#d3e2f6 75deg,#b9d1f0 90deg,#a3c2ea 105deg,#7ea8dd 120deg,#7aa5dc 140deg,#94b7e4 160deg,#a9c6eb 182deg,#e4edf9 200deg,#f7fafe 218deg,#e9f0fa 238deg,#8fb3e2 254deg,#4f86cc 268deg,#5e91d2 282deg,#85addf 300deg,#8ab1e1 320deg,#6c9bd6 345deg,#4d84cb 360deg);-webkit-mask-image:radial-gradient(circle closest-side, transparent 89.15px, #000 90.15px, #000 94.95px, transparent 95.75px);mask-image:radial-gradient(circle closest-side, transparent 89.15px, #000 90.15px, #000 94.95px, transparent 95.75px);"></div>
<div class="ring" style="left:466.60px;top:390.75px;width:169.90px;height:169.90px;background:conic-gradient(from 0deg,#4d84cb 0deg,#5b8fd1 12deg,#b4cdee 28deg,#f3f7fd 42deg,#f0f5fc 60deg,#d3e2f6 75deg,#b9d1f0 90deg,#a3c2ea 105deg,#7ea8dd 120deg,#7aa5dc 140deg,#94b7e4 160deg,#a9c6eb 182deg,#e4edf9 200deg,#f7fafe 218deg,#e9f0fa 238deg,#8fb3e2 254deg,#4f86cc 268deg,#5e91d2 282deg,#85addf 300deg,#8ab1e1 320deg,#6c9bd6 345deg,#4d84cb 360deg);-webkit-mask-image:radial-gradient(circle closest-side, transparent 77.25px, #000 78.25px, #000 83.35px, transparent 84.15px);mask-image:radial-gradient(circle closest-side, transparent 77.25px, #000 78.25px, #000 83.35px, transparent 84.15px);"></div>
<div class="ring" style="left:685.20px;top:451.30px;width:178.00px;height:178.00px;background:#feeae3;"></div>
<div class="ring" style="left:676.70px;top:443.40px;width:192.60px;height:192.60px;background:conic-gradient(from 0deg,#4d84cb 0deg,#5b8fd1 12deg,#b4cdee 28deg,#f3f7fd 42deg,#f0f5fc 60deg,#d3e2f6 75deg,#b9d1f0 90deg,#a3c2ea 105deg,#7ea8dd 120deg,#7aa5dc 140deg,#94b7e4 160deg,#a9c6eb 182deg,#e4edf9 200deg,#f7fafe 218deg,#e9f0fa 238deg,#8fb3e2 254deg,#4f86cc 268deg,#5e91d2 282deg,#85addf 300deg,#8ab1e1 320deg,#6c9bd6 345deg,#4d84cb 360deg);-webkit-mask-image:radial-gradient(circle closest-side, transparent 89.10px, #000 90.10px, #000 94.70px, transparent 95.50px);mask-image:radial-gradient(circle closest-side, transparent 89.10px, #000 90.10px, #000 94.70px, transparent 95.50px);"></div>
<div class="ring" style="left:439.20px;top:635.30px;width:141.20px;height:141.20px;background:conic-gradient(from 0deg,#e0c3c4 0deg,#e2c8c9 20deg,#eee2e5 42deg,#f3ecf0 62deg,#e8d6d9 85deg,#dfc6c8 120deg,#e1cacc 160deg,#eadce0 195deg,#f2eaef 220deg,#ece1e6 240deg,#dfc9cb 265deg,#dfc4c6 300deg,#e0c4c5 340deg,#e0c3c4 360deg);-webkit-mask-image:radial-gradient(circle closest-side, transparent 64.00px, #000 65.00px, #000 69.00px, transparent 69.80px);mask-image:radial-gradient(circle closest-side, transparent 64.00px, #000 65.00px, #000 69.00px, transparent 69.80px);"></div>
<div class="ring" style="left:1068.50px;top:391.10px;width:191.80px;height:191.80px;background:conic-gradient(from 0deg,#4d84cb 0deg,#5b8fd1 12deg,#b4cdee 28deg,#f3f7fd 42deg,#f0f5fc 60deg,#d3e2f6 75deg,#b9d1f0 90deg,#a3c2ea 105deg,#7ea8dd 120deg,#7aa5dc 140deg,#94b7e4 160deg,#a9c6eb 182deg,#e4edf9 200deg,#f7fafe 218deg,#e9f0fa 238deg,#8fb3e2 254deg,#4f86cc 268deg,#5e91d2 282deg,#85addf 300deg,#8ab1e1 320deg,#6c9bd6 345deg,#4d84cb 360deg);-webkit-mask-image:radial-gradient(circle closest-side, transparent 88.50px, #000 89.50px, #000 94.30px, transparent 95.10px);mask-image:radial-gradient(circle closest-side, transparent 88.50px, #000 89.50px, #000 94.30px, transparent 95.10px);"></div>
<div class="ring" style="left:1079.60px;top:402.30px;width:169.40px;height:169.40px;background:conic-gradient(from 0deg,#4d84cb 0deg,#5b8fd1 12deg,#b4cdee 28deg,#f3f7fd 42deg,#f0f5fc 60deg,#d3e2f6 75deg,#b9d1f0 90deg,#a3c2ea 105deg,#7ea8dd 120deg,#7aa5dc 140deg,#94b7e4 160deg,#a9c6eb 182deg,#e4edf9 200deg,#f7fafe 218deg,#e9f0fa 238deg,#8fb3e2 254deg,#4f86cc 268deg,#5e91d2 282deg,#85addf 300deg,#8ab1e1 320deg,#6c9bd6 345deg,#4d84cb 360deg);-webkit-mask-image:radial-gradient(circle closest-side, transparent 77.00px, #000 78.00px, #000 83.10px, transparent 83.90px);mask-image:radial-gradient(circle closest-side, transparent 77.00px, #000 78.00px, #000 83.10px, transparent 83.90px);"></div>
<div class="ring" style="left:1325.00px;top:449.50px;width:177.80px;height:177.80px;background:#fec7b3;"></div>
<div class="ring" style="left:1317.50px;top:442.20px;width:191.60px;height:191.60px;background:conic-gradient(from 0deg,#4d84cb 0deg,#5b8fd1 12deg,#b4cdee 28deg,#f3f7fd 42deg,#f0f5fc 60deg,#d3e2f6 75deg,#b9d1f0 90deg,#a3c2ea 105deg,#7ea8dd 120deg,#7aa5dc 140deg,#94b7e4 160deg,#a9c6eb 182deg,#e4edf9 200deg,#f7fafe 218deg,#e9f0fa 238deg,#8fb3e2 254deg,#4f86cc 268deg,#5e91d2 282deg,#85addf 300deg,#8ab1e1 320deg,#6c9bd6 345deg,#4d84cb 360deg);-webkit-mask-image:radial-gradient(circle closest-side, transparent 88.60px, #000 89.60px, #000 94.20px, transparent 95.00px);mask-image:radial-gradient(circle closest-side, transparent 88.60px, #000 89.60px, #000 94.20px, transparent 95.00px);"></div>
<div class="ring" style="left:1068.20px;top:636.40px;width:141.00px;height:141.00px;background:conic-gradient(from 0deg,#e0c3c4 0deg,#e2c8c9 20deg,#eee2e5 42deg,#f3ecf0 62deg,#e8d6d9 85deg,#dfc6c8 120deg,#e1cacc 160deg,#eadce0 195deg,#f2eaef 220deg,#ece1e6 240deg,#dfc9cb 265deg,#dfc4c6 300deg,#e0c4c5 340deg,#e0c3c4 360deg);-webkit-mask-image:radial-gradient(circle closest-side, transparent 63.90px, #000 64.90px, #000 68.90px, transparent 69.70px);mask-image:radial-gradient(circle closest-side, transparent 63.90px, #000 64.90px, #000 68.90px, transparent 69.70px);"></div>

<!-- ============ LAYER 4: diagram shapes ============ -->
<svg id="diag" width="1920" height="1080" viewBox="0 0 1920 1080">
<defs>
<clipPath id="mitoclip"><path d="M4.2,14 C4.2,8 10,4 18,4 C26,4 32,11.8 43,11.8 C54,11.8 59,4.4 70,4.4 C78,4.4 82.8,7.6 82.5,12.5 C82,18 77,22.3 71,25.8 C62.5,30.8 54,34.8 45,34.8 C34,34.8 22,29.8 13.5,23.3 C7.5,18.8 4.2,17 4.2,14 Z"/></clipPath>
<radialGradient id="sodg" cx="0.5" cy="0.5" r="0.5" fx="0.5" fy="0.5">
  <stop offset="0" stop-color="#d3e5f8"/><stop offset="0.45" stop-color="#c1d9f3"/><stop offset="0.8" stop-color="#a6c8ee"/><stop offset="1" stop-color="#98bfea"/>
</radialGradient>
<linearGradient id="pacA" x1="0" y1="0.1" x2="1" y2="0.9">
  <stop offset="0" stop-color="#e6d2d3"/><stop offset="0.3" stop-color="#ecdcdd"/><stop offset="0.5" stop-color="#fbf6f6"/><stop offset="0.7" stop-color="#e6d3d4"/><stop offset="1" stop-color="#d8bfc0"/>
</linearGradient>
<linearGradient id="pacB" x1="0" y1="0.2" x2="1" y2="0.8">
  <stop offset="0" stop-color="#dccfd2"/><stop offset="0.3" stop-color="#e9e1e4"/><stop offset="0.5" stop-color="#fdfbfc"/><stop offset="0.72" stop-color="#dacdd0"/><stop offset="1" stop-color="#c9b8bb"/>
</linearGradient>
</defs>
<linearGradient id="phg0" gradientUnits="userSpaceOnUse" x1="290" y1="324" x2="350" y2="404"><stop offset="0" stop-color="#d9e6f7"/><stop offset="0.12" stop-color="#6f9edb"/><stop offset="0.3" stop-color="#c3d7f1"/><stop offset="0.45" stop-color="#f2f6fc"/><stop offset="0.62" stop-color="#dce8f7"/><stop offset="0.8" stop-color="#8db3e4"/><stop offset="1" stop-color="#6d9cda"/></linearGradient><path d="M306.48,325.43 A42.5,42.5 0 0 0 344.84,397.57" fill="none" stroke="url(#phg0)" stroke-width="8.6" stroke-linecap="round"/><path d="M306.48,325.43 A42.5,42.5 0 0 0 344.84,397.57" fill="none" stroke="#f1f5fb" stroke-width="3.6" stroke-linecap="round"/>
<circle cx="327.5" cy="316.8" r="6.3" fill="#3c6dab"/>
<circle cx="326.1" cy="361.5" r="6.3" fill="#da726c"/>
<ellipse cx="394.6" cy="312.2" rx="49.8" ry="26.3" fill="url(#sodg)"/>
<g transform="translate(395.4,367.4) rotate(0) scale(1.0) translate(-43.5,-19.5)"><path d="M0,14 C0,5 8,0 18,0 C28,0 33,8 43,8 C53,8 58,0.5 70,0.5 C80,0.5 87,5 86.6,12 C86,20 80,25 73,29 C64,34.5 55,38.7 45,38.7 C33,38.7 20,33 11,26 C4,21 0,18 0,14 Z" fill="#e27a6c" stroke="#1b2f45" stroke-width="2"/><g transform="translate(43.5,19.6) scale(0.965,0.93) translate(-43.5,-19.5)"><path d="M4.2,14 C4.2,8 10,4 18,4 C26,4 32,11.8 43,11.8 C54,11.8 59,4.4 70,4.4 C78,4.4 82.8,7.6 82.5,12.5 C82,18 77,22.3 71,25.8 C62.5,30.8 54,34.8 45,34.8 C34,34.8 22,29.8 13.5,23.3 C7.5,18.8 4.2,17 4.2,14 Z" fill="#fcdeda" stroke="#0d0d0d" stroke-width="1.7"/><g clip-path="url(#mitoclip)" stroke="#0d0d0d" stroke-width="3.6" stroke-linecap="round"><path d="M19.5,2.0 L20.1,15.0"/><path d="M28.2,5.0 L28.599999999999998,19.8"/><path d="M37.2,8.2 L37.2,21.4"/><path d="M46.4,9.4 L46.4,20.8"/><path d="M55.0,8.8 L55.0,21.2"/><path d="M62.6,5.6 L62.6,15.8"/><path d="M69.4,2.2 L69.4,17.4"/><path d="M76.4,3.4 L75.60000000000001,16.2"/><path d="M25.4,31.0 L22.799999999999997,19.4"/><path d="M32.8,34.6 L32.8,22.0"/><path d="M41.8,37.0 L41.8,24.2"/><path d="M51.0,36.8 L51.0,24.2"/><path d="M59.5,34.8 L59.5,22.0"/><path d="M68.0,30.6 L68.0,20.8"/><path d="M75.2,25.8 L74.60000000000001,19.4"/><path d="M2.0,11.6 L11.6,12.8"/><path d="M2.6,19.0 L12.6,16.6"/><path d="M8.4,24.4 L16.0,19.6"/><path d="M14.4,28.4 L20.0,22.8"/><path d="M8.0,5.0 L13.6,10.2"/></g><g stroke="#c9665a" stroke-width="0.5" stroke-linecap="round"><path d="M19.5,2.0 L20.04,13.70"/><path d="M28.2,5.0 L28.56,18.50"/><path d="M37.2,8.2 L37.20,20.10"/><path d="M46.4,9.4 L46.40,19.50"/><path d="M55.0,8.8 L55.00,19.90"/><path d="M62.6,5.6 L62.60,14.50"/><path d="M69.4,2.2 L69.40,16.10"/><path d="M76.4,3.4 L75.68,14.90"/><path d="M25.4,31.0 L23.08,20.67"/><path d="M32.8,34.6 L32.80,23.30"/><path d="M41.8,37.0 L41.80,25.50"/><path d="M51.0,36.8 L51.00,25.50"/><path d="M59.5,34.8 L59.50,23.30"/><path d="M68.0,30.6 L68.00,22.10"/><path d="M75.2,25.8 L74.72,20.69"/><path d="M2.0,11.6 L10.31,12.64"/><path d="M2.6,19.0 L11.34,16.90"/><path d="M8.4,24.4 L14.90,20.29"/><path d="M14.4,28.4 L19.08,23.72"/><path d="M8.0,5.0 L12.65,9.32"/></g></g></g>
<path d="M386.9,403.6 Q412,425.5 446.5,431.3" fill="none" stroke="#0f2d5c" stroke-width="2.3"/>
<path d="M454.60,432.30 L443.45,435.60 L445.01,425.72 Z" fill="#0f2d5c"/>
<ellipse cx="565.6" cy="430.7" rx="38" ry="18.4" fill="url(#sodg)"/>
<g transform="translate(524.35,471.66) rotate(48) scale(1.0) translate(-43.5,-19.5)"><path d="M0,14 C0,5 8,0 18,0 C28,0 33,8 43,8 C53,8 58,0.5 70,0.5 C80,0.5 87,5 86.6,12 C86,20 80,25 73,29 C64,34.5 55,38.7 45,38.7 C33,38.7 20,33 11,26 C4,21 0,18 0,14 Z" fill="#e27a6c" stroke="#1b2f45" stroke-width="2"/><g transform="translate(43.5,19.6) scale(0.965,0.93) translate(-43.5,-19.5)"><path d="M4.2,14 C4.2,8 10,4 18,4 C26,4 32,11.8 43,11.8 C54,11.8 59,4.4 70,4.4 C78,4.4 82.8,7.6 82.5,12.5 C82,18 77,22.3 71,25.8 C62.5,30.8 54,34.8 45,34.8 C34,34.8 22,29.8 13.5,23.3 C7.5,18.8 4.2,17 4.2,14 Z" fill="#fcdeda" stroke="#0d0d0d" stroke-width="1.7"/><g clip-path="url(#mitoclip)" stroke="#0d0d0d" stroke-width="3.6" stroke-linecap="round"><path d="M19.5,2.0 L20.1,15.0"/><path d="M28.2,5.0 L28.599999999999998,19.8"/><path d="M37.2,8.2 L37.2,21.4"/><path d="M46.4,9.4 L46.4,20.8"/><path d="M55.0,8.8 L55.0,21.2"/><path d="M62.6,5.6 L62.6,15.8"/><path d="M69.4,2.2 L69.4,17.4"/><path d="M76.4,3.4 L75.60000000000001,16.2"/><path d="M25.4,31.0 L22.799999999999997,19.4"/><path d="M32.8,34.6 L32.8,22.0"/><path d="M41.8,37.0 L41.8,24.2"/><path d="M51.0,36.8 L51.0,24.2"/><path d="M59.5,34.8 L59.5,22.0"/><path d="M68.0,30.6 L68.0,20.8"/><path d="M75.2,25.8 L74.60000000000001,19.4"/><path d="M2.0,11.6 L11.6,12.8"/><path d="M2.6,19.0 L12.6,16.6"/><path d="M8.4,24.4 L16.0,19.6"/><path d="M14.4,28.4 L20.0,22.8"/><path d="M8.0,5.0 L13.6,10.2"/></g><g stroke="#c9665a" stroke-width="0.5" stroke-linecap="round"><path d="M19.5,2.0 L20.04,13.70"/><path d="M28.2,5.0 L28.56,18.50"/><path d="M37.2,8.2 L37.20,20.10"/><path d="M46.4,9.4 L46.40,19.50"/><path d="M55.0,8.8 L55.00,19.90"/><path d="M62.6,5.6 L62.60,14.50"/><path d="M69.4,2.2 L69.40,16.10"/><path d="M76.4,3.4 L75.68,14.90"/><path d="M25.4,31.0 L23.08,20.67"/><path d="M32.8,34.6 L32.80,23.30"/><path d="M41.8,37.0 L41.80,25.50"/><path d="M51.0,36.8 L51.00,25.50"/><path d="M59.5,34.8 L59.50,23.30"/><path d="M68.0,30.6 L68.00,22.10"/><path d="M75.2,25.8 L74.72,20.69"/><path d="M2.0,11.6 L10.31,12.64"/><path d="M2.6,19.0 L11.34,16.90"/><path d="M8.4,24.4 L14.90,20.29"/><path d="M14.4,28.4 L19.08,23.72"/><path d="M8.0,5.0 L12.65,9.32"/></g></g></g>
<circle cx="486.4" cy="486.5" r="6.3" fill="#3c6dab"/>
<circle cx="597.9" cy="467.4" r="6.3" fill="#8d8db3"/>
<circle cx="607" cy="504.9" r="6.3" fill="#da726c"/>
<circle cx="519.4" cy="520.7" r="6.3" fill="#5a8199"/>
<circle cx="560.6" cy="526.9" r="6.3" fill="#da726c"/>
<ellipse cx="793.2" cy="499.5" rx="38" ry="18.6" fill="url(#sodg)"/>
<g transform="translate(735.47,529.49) rotate(49) scale(1.0) translate(-43.5,-19.5)" fill="none" stroke="#15273d" stroke-linecap="butt"><path d="M0,14 C0,5 8,0 18,0 C28,0 33,8 43,8 C53,8 58,0.5 70,0.5 C80,0.5 87,5 86.6,12 C86,20 80,25 73,29 C64,34.5 55,38.7 45,38.7 C33,38.7 20,33 11,26 C4,21 0,18 0,14 Z" stroke-width="1.9" stroke-dasharray="4.4 2.2"/><path d="M4.2,14 C4.2,8 10,4 18,4 C26,4 32,11.8 43,11.8 C54,11.8 59,4.4 70,4.4 C78,4.4 82.8,7.6 82.5,12.5 C82,18 77,22.3 71,25.8 C62.5,30.8 54,34.8 45,34.8 C34,34.8 22,29.8 13.5,23.3 C7.5,18.8 4.2,17 4.2,14 Z" stroke="#0d0d0d" stroke-width="1.8" stroke-dasharray="3.6 2.2"/><g clip-path="url(#mitoclip)" stroke="#0d0d0d" stroke-width="2.3" stroke-dasharray="3 2"><path d="M19.5,2.0 L20.1,15.0" stroke-dashoffset="0.0"/><path d="M28.2,5.0 L28.599999999999998,19.8" stroke-dashoffset="1.3"/><path d="M37.2,8.2 L37.2,21.4" stroke-dashoffset="2.6"/><path d="M46.4,9.4 L46.4,20.8" stroke-dashoffset="3.9"/><path d="M55.0,8.8 L55.0,21.2" stroke-dashoffset="0.2"/><path d="M62.6,5.6 L62.6,15.8" stroke-dashoffset="1.5"/><path d="M69.4,2.2 L69.4,17.4" stroke-dashoffset="2.8"/><path d="M76.4,3.4 L75.60000000000001,16.2" stroke-dashoffset="4.1"/><path d="M25.4,31.0 L22.799999999999997,19.4" stroke-dashoffset="0.4"/><path d="M32.8,34.6 L32.8,22.0" stroke-dashoffset="1.7"/><path d="M41.8,37.0 L41.8,24.2" stroke-dashoffset="3.0"/><path d="M51.0,36.8 L51.0,24.2" stroke-dashoffset="4.3"/><path d="M59.5,34.8 L59.5,22.0" stroke-dashoffset="0.6"/><path d="M68.0,30.6 L68.0,20.8" stroke-dashoffset="1.9"/><path d="M75.2,25.8 L74.60000000000001,19.4" stroke-dashoffset="3.2"/><path d="M2.0,11.6 L11.6,12.8" stroke-dashoffset="4.5"/><path d="M2.6,19.0 L12.6,16.6" stroke-dashoffset="0.8"/><path d="M8.4,24.4 L16.0,19.6" stroke-dashoffset="2.1"/><path d="M14.4,28.4 L20.0,22.8" stroke-dashoffset="3.4"/><path d="M8.0,5.0 L13.6,10.2" stroke-dashoffset="4.7"/></g></g>
<path d="M750.27,473.54 L739.66,477.62 A11.8,11.8 0 1 1 746.56,484.29 Z" fill="url(#pacB)"/>
<path d="M842.37,554.39 L830.90,554.20 A11.9,11.9 0 1 1 834.84,563.04 Z" fill="url(#pacB)"/>
<path d="M759.45,612.50 L758.04,601.12 A11.9,11.9 0 1 1 749.83,606.25 Z" fill="url(#pacB)"/>
<path d="M712.60,552.30 L706.07,545.54 A9.4,9.4 0 0 1 718.64,545.10 Z" fill="#d6685f"/>
<path d="M795.20,534.80 L788.40,534.80 A6.8,6.8 0 0 1 795.20,528.00 Z" fill="#8d8db3"/>
<path d="M835.80,524.80 L838.74,532.46 A8.2,8.2 0 0 1 830.42,530.99 Z" fill="#3c6dab"/>
<path d="M804.60,563.70 L798.30,563.70 A6.3,6.3 0 0 1 804.60,557.40 Z" fill="#5a8199"/>
<path d="M834.20,571.80 L837.27,579.40 A8.2,8.2 0 0 1 830.10,578.90 Z" fill="#3c6dab"/>
<path d="M739.70,587.30 L735.04,579.84 A8.8,8.8 0 0 1 747.32,582.90 Z" fill="#8d8db3"/>
<path d="M783.7,577.8 Q774.6,581.5 776.9,590.3 Q784.6,586.0 783.7,577.8 Z" fill="#d6685f"/>
<path d="M802.9,592.8 L809.9,591.8 L807.7,598.0 Z" fill="#d6685f"/>
<path d="M498.44,670.16 L506.34,678.06 A11.6,11.6 0 1 1 509.57,669.19 Z" fill="url(#pacA)"/>
<path d="M537.26,699.06 L526.13,698.09 A11.6,11.6 0 1 1 529.36,706.96 Z" fill="url(#pacA)"/>
<path d="M477.42,709.70 L484.61,718.25 A11.6,11.6 0 1 1 488.60,709.70 Z" fill="url(#pacA)"/>
<path d="M512.10,730.57 L505.68,721.42 A11.6,11.6 0 1 1 500.96,729.59 Z" fill="url(#pacA)"/>
<path d="M565.8,580 C589,598 611,606.5 633,606.8 C648,607 662,603 673.5,597.4" fill="none" stroke="#0f2d5c" stroke-width="2.4"/>
<path d="M681.30,593.20 L674.05,602.30 L669.67,593.31 Z" fill="#0f2d5c"/>
<path d="M587.8,665.6 C597,641 612,621 631.5,607" fill="none" stroke="#0f2d5c" stroke-width="2.4"/>
<path d="M778.3,676.2 L778.3,707" fill="none" stroke="#0f2d5c" stroke-width="2.2"/>
<path d="M778.30,715.50 L773.30,705.00 L783.30,705.00 Z" fill="#0f2d5c"/>
<path d="M872.6,745.6 L872.6,714" fill="none" stroke="#0f2d5c" stroke-width="2.2"/>
<path d="M872.60,705.60 L877.60,716.10 L867.60,716.10 Z" fill="#0f2d5c"/>
<linearGradient id="phg647" gradientUnits="userSpaceOnUse" x1="937" y1="308.3" x2="997" y2="388.3"><stop offset="0" stop-color="#d9e6f7"/><stop offset="0.12" stop-color="#6f9edb"/><stop offset="0.3" stop-color="#c3d7f1"/><stop offset="0.45" stop-color="#f2f6fc"/><stop offset="0.62" stop-color="#dce8f7"/><stop offset="0.8" stop-color="#8db3e4"/><stop offset="1" stop-color="#6d9cda"/></linearGradient><path d="M953.48,309.73 A42.5,42.5 0 0 0 991.84,381.87" fill="none" stroke="url(#phg647)" stroke-width="8.6" stroke-linecap="round"/><path d="M953.48,309.73 A42.5,42.5 0 0 0 991.84,381.87" fill="none" stroke="#eef3f8" stroke-width="3.6" stroke-linecap="round"/>
<circle cx="967.3" cy="317.2" r="6.3" fill="#3c6dab"/>
<circle cx="988.9" cy="349.8" r="6.3" fill="#da726c"/>
<g transform="translate(1008.62,329.38) rotate(46) scale(1.0) translate(-43.5,-19.5)"><path d="M0,14 C0,5 8,0 18,0 C28,0 33,8 43,8 C53,8 58,0.5 70,0.5 C80,0.5 87,5 86.6,12 C86,20 80,25 73,29 C64,34.5 55,38.7 45,38.7 C33,38.7 20,33 11,26 C4,21 0,18 0,14 Z" fill="#e27a6c" stroke="#1b2f45" stroke-width="2"/><g transform="translate(43.5,19.6) scale(0.965,0.93) translate(-43.5,-19.5)"><path d="M4.2,14 C4.2,8 10,4 18,4 C26,4 32,11.8 43,11.8 C54,11.8 59,4.4 70,4.4 C78,4.4 82.8,7.6 82.5,12.5 C82,18 77,22.3 71,25.8 C62.5,30.8 54,34.8 45,34.8 C34,34.8 22,29.8 13.5,23.3 C7.5,18.8 4.2,17 4.2,14 Z" fill="#fcdeda" stroke="#0d0d0d" stroke-width="1.7"/><g clip-path="url(#mitoclip)" stroke="#0d0d0d" stroke-width="3.6" stroke-linecap="round"><path d="M19.5,2.0 L20.1,15.0"/><path d="M28.2,5.0 L28.599999999999998,19.8"/><path d="M37.2,8.2 L37.2,21.4"/><path d="M46.4,9.4 L46.4,20.8"/><path d="M55.0,8.8 L55.0,21.2"/><path d="M62.6,5.6 L62.6,15.8"/><path d="M69.4,2.2 L69.4,17.4"/><path d="M76.4,3.4 L75.60000000000001,16.2"/><path d="M25.4,31.0 L22.799999999999997,19.4"/><path d="M32.8,34.6 L32.8,22.0"/><path d="M41.8,37.0 L41.8,24.2"/><path d="M51.0,36.8 L51.0,24.2"/><path d="M59.5,34.8 L59.5,22.0"/><path d="M68.0,30.6 L68.0,20.8"/><path d="M75.2,25.8 L74.60000000000001,19.4"/><path d="M2.0,11.6 L11.6,12.8"/><path d="M2.6,19.0 L12.6,16.6"/><path d="M8.4,24.4 L16.0,19.6"/><path d="M14.4,28.4 L20.0,22.8"/><path d="M8.0,5.0 L13.6,10.2"/></g><g stroke="#c9665a" stroke-width="0.5" stroke-linecap="round"><path d="M19.5,2.0 L20.04,13.70"/><path d="M28.2,5.0 L28.56,18.50"/><path d="M37.2,8.2 L37.20,20.10"/><path d="M46.4,9.4 L46.40,19.50"/><path d="M55.0,8.8 L55.00,19.90"/><path d="M62.6,5.6 L62.60,14.50"/><path d="M69.4,2.2 L69.40,16.10"/><path d="M76.4,3.4 L75.68,14.90"/><path d="M25.4,31.0 L23.08,20.67"/><path d="M32.8,34.6 L32.80,23.30"/><path d="M41.8,37.0 L41.80,25.50"/><path d="M51.0,36.8 L51.00,25.50"/><path d="M59.5,34.8 L59.50,23.30"/><path d="M68.0,30.6 L68.00,22.10"/><path d="M75.2,25.8 L74.72,20.69"/><path d="M2.0,11.6 L10.31,12.64"/><path d="M2.6,19.0 L11.34,16.90"/><path d="M8.4,24.4 L14.90,20.29"/><path d="M14.4,28.4 L19.08,23.72"/><path d="M8.0,5.0 L12.65,9.32"/></g></g></g>
<path d="M1005.6,411.4 Q1024.5,431.5 1050,440.6" fill="none" stroke="#0f2d5c" stroke-width="2.3"/>
<path d="M1057.60,443.60 L1046.01,444.51 L1049.59,435.17 Z" fill="#0f2d5c"/>
<g transform="translate(1136.95,482.96) rotate(48) scale(1.0) translate(-43.5,-19.5)"><path d="M0,14 C0,5 8,0 18,0 C28,0 33,8 43,8 C53,8 58,0.5 70,0.5 C80,0.5 87,5 86.6,12 C86,20 80,25 73,29 C64,34.5 55,38.7 45,38.7 C33,38.7 20,33 11,26 C4,21 0,18 0,14 Z" fill="#e27a6c" stroke="#1b2f45" stroke-width="2"/><g transform="translate(43.5,19.6) scale(0.965,0.93) translate(-43.5,-19.5)"><path d="M4.2,14 C4.2,8 10,4 18,4 C26,4 32,11.8 43,11.8 C54,11.8 59,4.4 70,4.4 C78,4.4 82.8,7.6 82.5,12.5 C82,18 77,22.3 71,25.8 C62.5,30.8 54,34.8 45,34.8 C34,34.8 22,29.8 13.5,23.3 C7.5,18.8 4.2,17 4.2,14 Z" fill="#fcdeda" stroke="#0d0d0d" stroke-width="1.7"/><g clip-path="url(#mitoclip)" stroke="#0d0d0d" stroke-width="3.6" stroke-linecap="round"><path d="M19.5,2.0 L20.1,15.0"/><path d="M28.2,5.0 L28.599999999999998,19.8"/><path d="M37.2,8.2 L37.2,21.4"/><path d="M46.4,9.4 L46.4,20.8"/><path d="M55.0,8.8 L55.0,21.2"/><path d="M62.6,5.6 L62.6,15.8"/><path d="M69.4,2.2 L69.4,17.4"/><path d="M76.4,3.4 L75.60000000000001,16.2"/><path d="M25.4,31.0 L22.799999999999997,19.4"/><path d="M32.8,34.6 L32.8,22.0"/><path d="M41.8,37.0 L41.8,24.2"/><path d="M51.0,36.8 L51.0,24.2"/><path d="M59.5,34.8 L59.5,22.0"/><path d="M68.0,30.6 L68.0,20.8"/><path d="M75.2,25.8 L74.60000000000001,19.4"/><path d="M2.0,11.6 L11.6,12.8"/><path d="M2.6,19.0 L12.6,16.6"/><path d="M8.4,24.4 L16.0,19.6"/><path d="M14.4,28.4 L20.0,22.8"/><path d="M8.0,5.0 L13.6,10.2"/></g><g stroke="#c9665a" stroke-width="0.5" stroke-linecap="round"><path d="M19.5,2.0 L20.04,13.70"/><path d="M28.2,5.0 L28.56,18.50"/><path d="M37.2,8.2 L37.20,20.10"/><path d="M46.4,9.4 L46.40,19.50"/><path d="M55.0,8.8 L55.00,19.90"/><path d="M62.6,5.6 L62.60,14.50"/><path d="M69.4,2.2 L69.40,16.10"/><path d="M76.4,3.4 L75.68,14.90"/><path d="M25.4,31.0 L23.08,20.67"/><path d="M32.8,34.6 L32.80,23.30"/><path d="M41.8,37.0 L41.80,25.50"/><path d="M51.0,36.8 L51.00,25.50"/><path d="M59.5,34.8 L59.50,23.30"/><path d="M68.0,30.6 L68.00,22.10"/><path d="M75.2,25.8 L74.72,20.69"/><path d="M2.0,11.6 L10.31,12.64"/><path d="M2.6,19.0 L11.34,16.90"/><path d="M8.4,24.4 L14.90,20.29"/><path d="M14.4,28.4 L19.08,23.72"/><path d="M8.0,5.0 L12.65,9.32"/></g></g></g>
<circle cx="1180.4" cy="455.8" r="6.3" fill="#8d8db3"/>
<circle cx="1219.1" cy="481.4" r="6.3" fill="#da726c"/>
<circle cx="1195.4" cy="521" r="6.3" fill="#da726c"/>
<circle cx="1111.1" cy="508.7" r="6.3" fill="#3c6dab"/>
<circle cx="1142.7" cy="539.9" r="6.3" fill="#5a8199"/>
<g transform="translate(1375.67,527.89) rotate(49) scale(1.0) translate(-43.5,-19.5)" fill="none" stroke="#15273d" stroke-linecap="butt"><path d="M0,14 C0,5 8,0 18,0 C28,0 33,8 43,8 C53,8 58,0.5 70,0.5 C80,0.5 87,5 86.6,12 C86,20 80,25 73,29 C64,34.5 55,38.7 45,38.7 C33,38.7 20,33 11,26 C4,21 0,18 0,14 Z" stroke-width="1.9" stroke-dasharray="4.4 2.2"/><path d="M4.2,14 C4.2,8 10,4 18,4 C26,4 32,11.8 43,11.8 C54,11.8 59,4.4 70,4.4 C78,4.4 82.8,7.6 82.5,12.5 C82,18 77,22.3 71,25.8 C62.5,30.8 54,34.8 45,34.8 C34,34.8 22,29.8 13.5,23.3 C7.5,18.8 4.2,17 4.2,14 Z" stroke="#0d0d0d" stroke-width="1.8" stroke-dasharray="3.6 2.2"/><g clip-path="url(#mitoclip)" stroke="#0d0d0d" stroke-width="2.3" stroke-dasharray="3 2"><path d="M19.5,2.0 L20.1,15.0" stroke-dashoffset="0.0"/><path d="M28.2,5.0 L28.599999999999998,19.8" stroke-dashoffset="1.3"/><path d="M37.2,8.2 L37.2,21.4" stroke-dashoffset="2.6"/><path d="M46.4,9.4 L46.4,20.8" stroke-dashoffset="3.9"/><path d="M55.0,8.8 L55.0,21.2" stroke-dashoffset="0.2"/><path d="M62.6,5.6 L62.6,15.8" stroke-dashoffset="1.5"/><path d="M69.4,2.2 L69.4,17.4" stroke-dashoffset="2.8"/><path d="M76.4,3.4 L75.60000000000001,16.2" stroke-dashoffset="4.1"/><path d="M25.4,31.0 L22.799999999999997,19.4" stroke-dashoffset="0.4"/><path d="M32.8,34.6 L32.8,22.0" stroke-dashoffset="1.7"/><path d="M41.8,37.0 L41.8,24.2" stroke-dashoffset="3.0"/><path d="M51.0,36.8 L51.0,24.2" stroke-dashoffset="4.3"/><path d="M59.5,34.8 L59.5,22.0" stroke-dashoffset="0.6"/><path d="M68.0,30.6 L68.0,20.8" stroke-dashoffset="1.9"/><path d="M75.2,25.8 L74.60000000000001,19.4" stroke-dashoffset="3.2"/><path d="M2.0,11.6 L11.6,12.8" stroke-dashoffset="4.5"/><path d="M2.6,19.0 L12.6,16.6" stroke-dashoffset="0.8"/><path d="M8.4,24.4 L16.0,19.6" stroke-dashoffset="2.1"/><path d="M14.4,28.4 L20.0,22.8" stroke-dashoffset="3.4"/><path d="M8.0,5.0 L13.6,10.2" stroke-dashoffset="4.7"/></g></g>
<path d="M1390.37,472.14 L1379.76,476.22 A11.8,11.8 0 1 1 1386.66,482.89 Z" fill="url(#pacB)"/>
<path d="M1466.56,497.98 L1455.21,497.39 A11.8,11.8 0 1 1 1458.80,506.29 Z" fill="url(#pacB)"/>
<path d="M1399.58,609.88 L1398.98,598.53 A11.8,11.8 0 1 1 1390.50,603.04 Z" fill="url(#pacB)"/>
<path d="M1416.4,489.6 Q1424.4,490.6 1425.6,500.2 Q1417.4,497.6 1416.4,489.6 Z" fill="#da726c"/>
<path d="M1352.80,550.60 L1346.27,543.84 A9.4,9.4 0 0 1 1358.84,543.40 Z" fill="#d6685f"/>
<path d="M1435.40,533.10 L1428.60,533.10 A6.8,6.8 0 0 1 1435.40,526.30 Z" fill="#8d8db3"/>
<path d="M1476.00,523.10 L1478.94,530.76 A8.2,8.2 0 0 1 1470.62,529.29 Z" fill="#3c6dab"/>
<path d="M1444.80,562.00 L1438.50,562.00 A6.3,6.3 0 0 1 1444.80,555.70 Z" fill="#5a8199"/>
<path d="M1474.40,570.10 L1477.47,577.70 A8.2,8.2 0 0 1 1470.30,577.20 Z" fill="#3c6dab"/>
<path d="M1379.90,585.60 L1375.24,578.14 A8.8,8.8 0 0 1 1387.52,581.20 Z" fill="#8d8db3"/>
<path d="M1423.9,576.1 Q1414.8,579.8 1417.1,588.6 Q1424.8,584.3 1423.9,576.1 Z" fill="#d6685f"/>
<path d="M1443.1,591.1 L1450.1,590.1 L1447.9,596.3 Z" fill="#d6685f"/>
<path d="M1127.84,671.42 L1136.34,678.54 A11.5,11.5 0 1 1 1138.76,669.50 Z" fill="url(#pacA)"/>
<path d="M1166.07,700.06 L1155.03,699.10 A11.5,11.5 0 1 1 1158.23,707.89 Z" fill="url(#pacA)"/>
<path d="M1106.43,710.66 L1114.27,718.49 A11.5,11.5 0 1 1 1117.47,709.70 Z" fill="url(#pacA)"/>
<path d="M1140.70,731.37 L1134.34,722.30 A11.5,11.5 0 1 1 1129.66,730.40 Z" fill="url(#pacA)"/>
<path d="M1201.7,588.3 C1224,605 1244,614 1265,614.6 C1282,615 1296,611.5 1308.6,606" fill="none" stroke="#0f2d5c" stroke-width="2.4"/>
<path d="M1316.60,601.70 L1309.51,610.92 L1304.97,602.01 Z" fill="#0f2d5c"/>
<path d="M1223.9,674.2 C1232,650 1247,629 1266.5,614.8" fill="none" stroke="#0f2d5c" stroke-width="2.4"/>
<path d="M1414.3,677.3 L1414.3,708" fill="none" stroke="#0f2d5c" stroke-width="2.2"/>
<path d="M1414.30,716.30 L1409.30,705.80 L1419.30,705.80 Z" fill="#0f2d5c"/>
<path d="M1506.7,712.7 L1506.7,743.5" fill="none" stroke="#0f2d5c" stroke-width="2.2"/>
<path d="M1506.70,751.90 L1501.70,741.40 L1511.70,741.40 Z" fill="#0f2d5c"/>
</svg>

<!-- ============ LAYER 5: text ============ -->
<svg id="txt" width="1920" height="1080" viewBox="0 0 1920 1080">
  <text x="160.4" y="127.6" font-size="60" fill="#f58ef5" textLength="505" lengthAdjust="spacingAndGlyphs">Healthy Individual</text>
  <text x="1339.8" y="128" font-size="60" fill="#12acff" textLength="346.5" lengthAdjust="spacingAndGlyphs">ALS Patients</text>
  <text x="550" y="243.8" font-size="30" fill="#000" textLength="46" lengthAdjust="spacingAndGlyphs">WT</text>
  <text x="1046.5" y="243.3" font-size="30" fill="#000" textLength="236" lengthAdjust="spacingAndGlyphs">SOD1 deficiency</text>

  <text x="475.7" y="368.5" font-size="18.7" fill="#000" textLength="160.6" lengthAdjust="spacingAndGlyphs">Autophagosome</text>
  <text x="705.2" y="433" font-size="20" fill="#000" textLength="140.1" lengthAdjust="spacingAndGlyphs">Autolysosome</text>
  <text x="467.5" y="626.2" font-size="20" fill="#000" textLength="99.9" lengthAdjust="spacingAndGlyphs">Lysosome</text>
  <text x="733.5" y="665.4" font-size="20" fill="#000" textLength="89.8" lengthAdjust="spacingAndGlyphs">Low ROS</text>
  <text x="693.0" y="733.9" font-size="20" fill="#000" textLength="170.6" lengthAdjust="spacingAndGlyphs">Integrity/Function</text>

  <text x="1086.2" y="377.7" font-size="18.7" fill="#000" textLength="159.1" lengthAdjust="spacingAndGlyphs">Autophagosome</text>
  <text x="1347.5" y="431.7" font-size="20" fill="#000" textLength="139.4" lengthAdjust="spacingAndGlyphs">Autolysosome</text>
  <text x="1083.5" y="628.5" font-size="20" fill="#000" textLength="99.4" lengthAdjust="spacingAndGlyphs">Lysosome</text>
  <text x="1367.5" y="662.3" font-size="20" fill="#000" textLength="93.4" lengthAdjust="spacingAndGlyphs">High ROS</text>
  <text x="1329.2" y="737.3" font-size="20" fill="#000" textLength="170.1" lengthAdjust="spacingAndGlyphs">Integrity/Function</text>

  <text x="369.2" y="320.2" font-size="19.6" fill="#000" textLength="54.6" lengthAdjust="spacingAndGlyphs">SOD1</text>
  <text x="538.9" y="437.5" font-size="19.4" fill="#000" textLength="53.8" lengthAdjust="spacingAndGlyphs">SOD1</text>
  <text x="765.1" y="507" font-size="19.4" fill="#000" textLength="54.2" lengthAdjust="spacingAndGlyphs">SOD1</text>
</svg>

</div>
</body>
</html>
